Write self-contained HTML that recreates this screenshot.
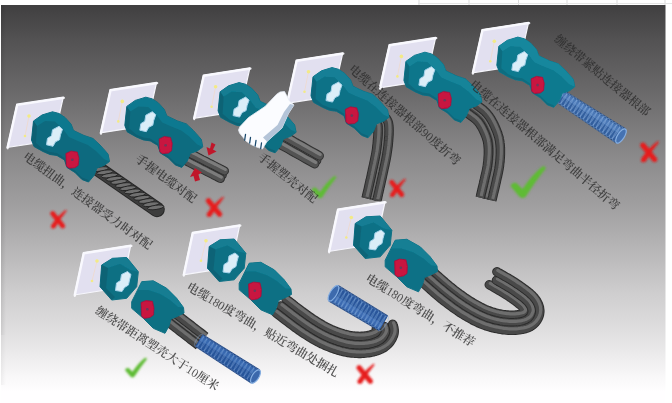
<!DOCTYPE html>
<html lang="zh-CN"><head><meta charset="utf-8"><title>连接器线缆对配示意</title>
<style>html,body{margin:0;padding:0;background:#fff;overflow:hidden}body{width:672px;height:403px;font-family:"Liberation Serif","Noto Serif CJK SC",serif}svg{display:block}text{font-family:"Liberation Serif","Noto Serif CJK SC",serif;font-weight:600}</style>
</head><body>
<svg width="672" height="403" viewBox="0 0 672 403">
<defs>
<linearGradient id="bgL" gradientUnits="userSpaceOnUse" x1="0" y1="5" x2="0" y2="403"><stop offset="0.000" stop-color="#403f40"/><stop offset="0.088" stop-color="#535253"/><stop offset="0.239" stop-color="#6e6d6e"/><stop offset="0.389" stop-color="#8c8b8c"/><stop offset="0.515" stop-color="#a2a1a2"/><stop offset="0.606" stop-color="#b5b4b5"/><stop offset="0.726" stop-color="#cfcecf"/><stop offset="0.822" stop-color="#e0dfe0"/><stop offset="0.892" stop-color="#efeeef"/><stop offset="0.932" stop-color="#f8f7f8"/><stop offset="0.972" stop-color="#fffeff"/><stop offset="1.000" stop-color="#fffeff"/></linearGradient>
<linearGradient id="edge" x1="0" y1="0" x2="1" y2="0"><stop offset="0" stop-color="#000" stop-opacity="0.09"/><stop offset="1" stop-color="#000" stop-opacity="0"/></linearGradient>
<filter id="soft" x="-5%" y="-5%" width="110%" height="110%"><feGaussianBlur stdDeviation="0.7"/></filter>
<filter id="soft2" x="-5%" y="-5%" width="110%" height="110%"><feGaussianBlur stdDeviation="0.6"/></filter>
<filter id="soft3" x="-10%" y="-10%" width="120%" height="120%"><feGaussianBlur stdDeviation="0.8"/></filter>
</defs>
<rect x="0" y="0" width="672" height="403" fill="#ffffff"/>
<rect x="1" y="5" width="665" height="398" fill="url(#bgL)"/>
<rect x="1" y="5" width="5" height="330" fill="url(#edge)"/>
<rect x="1" y="335" width="5" height="50" fill="url(#edge)" opacity="0.5"/>
<rect x="665" y="5" width="1" height="398" fill="#fff" opacity="0.5"/>
<rect x="418.5" y="0" width="1" height="5" fill="#dcdcdc"/>
<rect x="468.5" y="0" width="1" height="5" fill="#dcdcdc"/>
<rect x="518.0" y="0" width="1" height="5" fill="#dcdcdc"/>
<rect x="566.5" y="0" width="1" height="5" fill="#dcdcdc"/>
<rect x="616.5" y="0" width="1" height="5" fill="#dcdcdc"/>
<rect x="664.5" y="0" width="1" height="5" fill="#dcdcdc"/>
<rect x="418" y="3" width="254" height="1" fill="#e4e4e4"/>
<g filter="url(#soft)">
<path d="M97,168 L157,209.5" fill="none" stroke="#262626" stroke-width="15.5" stroke-linecap="round" stroke-linejoin="round" />
<path d="M97,168 L157,209.5" fill="none" stroke="#3e3e3e" stroke-width="13.5" stroke-linecap="round" stroke-linejoin="round" />
<ellipse cx="100.3" cy="169.1" rx="8.3" ry="2.1" transform="rotate(-8 100.3 169.1)" fill="#707070" stroke="#1e1e1e" stroke-width="0.8"/>
<ellipse cx="104.9" cy="172.3" rx="8.3" ry="2.1" transform="rotate(-8 104.9 172.3)" fill="#707070" stroke="#1e1e1e" stroke-width="0.8"/>
<ellipse cx="109.5" cy="175.5" rx="8.3" ry="2.1" transform="rotate(-8 109.5 175.5)" fill="#707070" stroke="#1e1e1e" stroke-width="0.8"/>
<ellipse cx="114.2" cy="178.7" rx="8.3" ry="2.1" transform="rotate(-8 114.2 178.7)" fill="#707070" stroke="#1e1e1e" stroke-width="0.8"/>
<ellipse cx="118.8" cy="181.9" rx="8.3" ry="2.1" transform="rotate(-8 118.8 181.9)" fill="#707070" stroke="#1e1e1e" stroke-width="0.8"/>
<ellipse cx="123.4" cy="185.1" rx="8.3" ry="2.1" transform="rotate(-8 123.4 185.1)" fill="#707070" stroke="#1e1e1e" stroke-width="0.8"/>
<ellipse cx="128.0" cy="188.2" rx="8.3" ry="2.1" transform="rotate(-8 128.0 188.2)" fill="#707070" stroke="#1e1e1e" stroke-width="0.8"/>
<ellipse cx="132.6" cy="191.4" rx="8.3" ry="2.1" transform="rotate(-8 132.6 191.4)" fill="#707070" stroke="#1e1e1e" stroke-width="0.8"/>
<ellipse cx="137.2" cy="194.6" rx="8.3" ry="2.1" transform="rotate(-8 137.2 194.6)" fill="#707070" stroke="#1e1e1e" stroke-width="0.8"/>
<ellipse cx="141.8" cy="197.8" rx="8.3" ry="2.1" transform="rotate(-8 141.8 197.8)" fill="#707070" stroke="#1e1e1e" stroke-width="0.8"/>
<ellipse cx="146.5" cy="201.0" rx="8.3" ry="2.1" transform="rotate(-8 146.5 201.0)" fill="#707070" stroke="#1e1e1e" stroke-width="0.8"/>
<ellipse cx="151.1" cy="204.2" rx="8.3" ry="2.1" transform="rotate(-8 151.1 204.2)" fill="#707070" stroke="#1e1e1e" stroke-width="0.8"/>
<ellipse cx="155.7" cy="207.4" rx="8.3" ry="2.1" transform="rotate(-8 155.7 207.4)" fill="#707070" stroke="#1e1e1e" stroke-width="0.8"/>
<path d="M183.8,155.4 L187.0,157.1 L190.2,158.7 L193.4,160.4 L196.6,162.0 L199.8,163.7 L203.0,165.3 L206.2,166.9 L209.4,168.6 L212.6,170.2 L215.9,171.9 L219.1,173.5 L222.3,175.1" fill="none" stroke="#2e2e2e" stroke-width="9.0" stroke-linecap="round" stroke-linejoin="round" />
<path d="M183.8,155.4 L187.0,157.1 L190.2,158.7 L193.4,160.4 L196.6,162.0 L199.8,163.7 L203.0,165.3 L206.2,166.9 L209.4,168.6 L212.6,170.2 L215.9,171.9 L219.1,173.5 L222.3,175.1" fill="none" stroke="#525252" stroke-width="7.2" stroke-linecap="round" stroke-linejoin="round" />
<path d="M183.8,155.4 L187.0,157.1 L190.2,158.7 L193.4,160.4 L196.6,162.0 L199.8,163.7 L203.0,165.3 L206.2,166.9 L209.4,168.6 L212.6,170.2 L215.9,171.9 L219.1,173.5 L222.3,175.1" fill="none" stroke="#7c7c7c" stroke-width="3.1" stroke-linecap="round" stroke-linejoin="round" transform="translate(0.9,-1.4)"/>
<path d="M186.0,151.2 L189.2,152.8 L192.4,154.5 L195.6,156.1 L198.8,157.7 L202.0,159.4 L205.2,161.0 L208.4,162.7 L211.6,164.3 L214.8,165.9 L218.0,167.6 L221.3,169.2 L224.5,170.9" fill="none" stroke="#2e2e2e" stroke-width="9.0" stroke-linecap="round" stroke-linejoin="round" />
<path d="M186.0,151.2 L189.2,152.8 L192.4,154.5 L195.6,156.1 L198.8,157.7 L202.0,159.4 L205.2,161.0 L208.4,162.7 L211.6,164.3 L214.8,165.9 L218.0,167.6 L221.3,169.2 L224.5,170.9" fill="none" stroke="#525252" stroke-width="7.2" stroke-linecap="round" stroke-linejoin="round" />
<path d="M186.0,151.2 L189.2,152.8 L192.4,154.5 L195.6,156.1 L198.8,157.7 L202.0,159.4 L205.2,161.0 L208.4,162.7 L211.6,164.3 L214.8,165.9 L218.0,167.6 L221.3,169.2 L224.5,170.9" fill="none" stroke="#7c7c7c" stroke-width="3.1" stroke-linecap="round" stroke-linejoin="round" transform="translate(0.9,-1.4)"/>
<path d="M182.0,158.8 L185.2,160.5 L188.5,162.1 L191.7,163.8 L194.9,165.4 L198.1,167.0 L201.3,168.7 L204.5,170.3 L207.7,172.0 L210.9,173.6 L214.1,175.2 L217.3,176.9 L220.5,178.5" fill="none" stroke="#2e2e2e" stroke-width="9.0" stroke-linecap="round" stroke-linejoin="round" />
<path d="M182.0,158.8 L185.2,160.5 L188.5,162.1 L191.7,163.8 L194.9,165.4 L198.1,167.0 L201.3,168.7 L204.5,170.3 L207.7,172.0 L210.9,173.6 L214.1,175.2 L217.3,176.9 L220.5,178.5" fill="none" stroke="#525252" stroke-width="7.2" stroke-linecap="round" stroke-linejoin="round" />
<path d="M182.0,158.8 L185.2,160.5 L188.5,162.1 L191.7,163.8 L194.9,165.4 L198.1,167.0 L201.3,168.7 L204.5,170.3 L207.7,172.0 L210.9,173.6 L214.1,175.2 L217.3,176.9 L220.5,178.5" fill="none" stroke="#7c7c7c" stroke-width="3.1" stroke-linecap="round" stroke-linejoin="round" transform="translate(0.9,-1.4)"/>
<path d="M276.8,137.7 L280.1,139.6 L283.4,141.5 L286.8,143.4 L290.1,145.2 L293.4,147.1 L296.8,149.0 L300.1,150.9 L303.4,152.7 L306.8,154.6 L310.1,156.5 L313.4,158.4 L316.8,160.2" fill="none" stroke="#2e2e2e" stroke-width="9.3" stroke-linecap="round" stroke-linejoin="round" />
<path d="M276.8,137.7 L280.1,139.6 L283.4,141.5 L286.8,143.4 L290.1,145.2 L293.4,147.1 L296.8,149.0 L300.1,150.9 L303.4,152.7 L306.8,154.6 L310.1,156.5 L313.4,158.4 L316.8,160.2" fill="none" stroke="#525252" stroke-width="7.5" stroke-linecap="round" stroke-linejoin="round" />
<path d="M276.8,137.7 L280.1,139.6 L283.4,141.5 L286.8,143.4 L290.1,145.2 L293.4,147.1 L296.8,149.0 L300.1,150.9 L303.4,152.7 L306.8,154.6 L310.1,156.5 L313.4,158.4 L316.8,160.2" fill="none" stroke="#7c7c7c" stroke-width="3.2" stroke-linecap="round" stroke-linejoin="round" transform="translate(0.9,-1.4)"/>
<path d="M279.3,133.3 L282.6,135.2 L285.9,137.0 L289.3,138.9 L292.6,140.8 L295.9,142.7 L299.3,144.5 L302.6,146.4 L305.9,148.3 L309.3,150.2 L312.6,152.0 L315.9,153.9 L319.3,155.8" fill="none" stroke="#2e2e2e" stroke-width="9.3" stroke-linecap="round" stroke-linejoin="round" />
<path d="M279.3,133.3 L282.6,135.2 L285.9,137.0 L289.3,138.9 L292.6,140.8 L295.9,142.7 L299.3,144.5 L302.6,146.4 L305.9,148.3 L309.3,150.2 L312.6,152.0 L315.9,153.9 L319.3,155.8" fill="none" stroke="#525252" stroke-width="7.5" stroke-linecap="round" stroke-linejoin="round" />
<path d="M279.3,133.3 L282.6,135.2 L285.9,137.0 L289.3,138.9 L292.6,140.8 L295.9,142.7 L299.3,144.5 L302.6,146.4 L305.9,148.3 L309.3,150.2 L312.6,152.0 L315.9,153.9 L319.3,155.8" fill="none" stroke="#7c7c7c" stroke-width="3.2" stroke-linecap="round" stroke-linejoin="round" transform="translate(0.9,-1.4)"/>
<path d="M274.7,141.3 L278.1,143.2 L281.4,145.1 L284.7,146.9 L288.1,148.8 L291.4,150.7 L294.7,152.6 L298.1,154.4 L301.4,156.3 L304.7,158.2 L308.1,160.1 L311.4,161.9 L314.7,163.8" fill="none" stroke="#2e2e2e" stroke-width="9.3" stroke-linecap="round" stroke-linejoin="round" />
<path d="M274.7,141.3 L278.1,143.2 L281.4,145.1 L284.7,146.9 L288.1,148.8 L291.4,150.7 L294.7,152.6 L298.1,154.4 L301.4,156.3 L304.7,158.2 L308.1,160.1 L311.4,161.9 L314.7,163.8" fill="none" stroke="#525252" stroke-width="7.5" stroke-linecap="round" stroke-linejoin="round" />
<path d="M274.7,141.3 L278.1,143.2 L281.4,145.1 L284.7,146.9 L288.1,148.8 L291.4,150.7 L294.7,152.6 L298.1,154.4 L301.4,156.3 L304.7,158.2 L308.1,160.1 L311.4,161.9 L314.7,163.8" fill="none" stroke="#7c7c7c" stroke-width="3.2" stroke-linecap="round" stroke-linejoin="round" transform="translate(0.9,-1.4)"/>
<path d="M372.0,117.0 L372.4,117.2 L373.0,117.3 L373.7,117.5 L374.4,117.8 L375.2,118.0 L376.1,118.3 L376.9,118.6 L377.8,118.9 L378.6,119.3 L379.3,119.6 L380.0,120.1 L380.5,120.5 L381.0,120.9 L381.4,121.4 L381.7,121.8 L382.1,122.2 L382.4,122.6 L382.6,123.1 L382.8,123.6 L383.0,124.3 L383.2,125.0 L383.3,125.9 L383.4,126.9 L383.5,128.0 L383.5,129.3 L383.6,130.8 L383.5,132.4 L383.5,134.1 L383.4,136.0 L383.2,137.9 L383.1,139.9 L382.9,141.9 L382.7,143.9 L382.5,146.0 L382.3,148.0 L382.0,150.0 L381.7,152.0 L381.4,154.0 L381.0,156.1 L380.6,158.1 L380.2,160.2 L379.8,162.3 L379.3,164.5 L378.8,166.6 L378.4,168.7 L377.9,170.8 L377.4,172.9 L377.0,175.0 L376.5,177.1 L376.0,179.4 L375.5,181.7 L375.0,184.1 L374.5,186.5 L373.9,188.8 L373.4,191.1 L372.9,193.2 L372.5,195.1 L372.1,196.8 L371.8,198.3 L371.5,199.5" fill="none" stroke="#2a2a2a" stroke-width="9.5" stroke-linecap="butt" stroke-linejoin="round" />
<path d="M372.0,117.0 L372.4,117.2 L373.0,117.3 L373.7,117.5 L374.4,117.8 L375.2,118.0 L376.1,118.3 L376.9,118.6 L377.8,118.9 L378.6,119.3 L379.3,119.6 L380.0,120.1 L380.5,120.5 L381.0,120.9 L381.4,121.4 L381.7,121.8 L382.1,122.2 L382.4,122.6 L382.6,123.1 L382.8,123.6 L383.0,124.3 L383.2,125.0 L383.3,125.9 L383.4,126.9 L383.5,128.0 L383.5,129.3 L383.6,130.8 L383.5,132.4 L383.5,134.1 L383.4,136.0 L383.2,137.9 L383.1,139.9 L382.9,141.9 L382.7,143.9 L382.5,146.0 L382.3,148.0 L382.0,150.0 L381.7,152.0 L381.4,154.0 L381.0,156.1 L380.6,158.1 L380.2,160.2 L379.8,162.3 L379.3,164.5 L378.8,166.6 L378.4,168.7 L377.9,170.8 L377.4,172.9 L377.0,175.0 L376.5,177.1 L376.0,179.4 L375.5,181.7 L375.0,184.1 L374.5,186.5 L373.9,188.8 L373.4,191.1 L372.9,193.2 L372.5,195.1 L372.1,196.8 L371.8,198.3 L371.5,199.5" fill="none" stroke="#484848" stroke-width="7.7" stroke-linecap="butt" stroke-linejoin="round" />
<path d="M372.0,117.0 L372.4,117.2 L373.0,117.3 L373.7,117.5 L374.4,117.8 L375.2,118.0 L376.1,118.3 L376.9,118.6 L377.8,118.9 L378.6,119.3 L379.3,119.6 L380.0,120.1 L380.5,120.5 L381.0,120.9 L381.4,121.4 L381.7,121.8 L382.1,122.2 L382.4,122.6 L382.6,123.1 L382.8,123.6 L383.0,124.3 L383.2,125.0 L383.3,125.9 L383.4,126.9 L383.5,128.0 L383.5,129.3 L383.6,130.8 L383.5,132.4 L383.5,134.1 L383.4,136.0 L383.2,137.9 L383.1,139.9 L382.9,141.9 L382.7,143.9 L382.5,146.0 L382.3,148.0 L382.0,150.0 L381.7,152.0 L381.4,154.0 L381.0,156.1 L380.6,158.1 L380.2,160.2 L379.8,162.3 L379.3,164.5 L378.8,166.6 L378.4,168.7 L377.9,170.8 L377.4,172.9 L377.0,175.0 L376.5,177.1 L376.0,179.4 L375.5,181.7 L375.0,184.1 L374.5,186.5 L373.9,188.8 L373.4,191.1 L372.9,193.2 L372.5,195.1 L372.1,196.8 L371.8,198.3 L371.5,199.5" fill="none" stroke="#6e6e6e" stroke-width="3.2" stroke-linecap="butt" stroke-linejoin="round" transform="translate(0.9,-1.4)"/>
<path d="M370.1,122.2 L370.7,122.4 L371.4,122.6 L372.1,122.8 L372.8,123.0 L373.6,123.3 L374.3,123.5 L375.0,123.7 L375.7,124.0 L376.2,124.2 L376.6,124.4 L376.8,124.5 L376.9,124.6 L377.1,124.9 L377.4,125.2 L377.6,125.3 L377.6,125.4 L377.6,125.4 L377.6,125.4 L377.7,125.5 L377.7,125.6 L377.8,126.0 L377.9,126.5 L377.9,127.3 L378.0,128.3 L378.0,129.4 L378.1,130.8 L378.0,132.3 L378.0,133.9 L377.9,135.7 L377.8,137.5 L377.6,139.4 L377.4,141.4 L377.3,143.4 L377.0,145.4 L376.8,147.3 L376.6,149.2 L376.3,151.1 L376.0,153.1 L375.6,155.1 L375.2,157.1 L374.8,159.1 L374.4,161.2 L373.9,163.3 L373.5,165.4 L373.0,167.5 L372.5,169.7 L372.1,171.8 L371.6,173.8 L371.2,176.0 L370.7,178.2 L370.2,180.5 L369.6,182.9 L369.1,185.3 L368.6,187.6 L368.1,189.8 L367.6,191.9 L367.1,193.9 L366.7,195.6 L366.4,197.1 L366.1,198.3" fill="none" stroke="#2a2a2a" stroke-width="9.5" stroke-linecap="butt" stroke-linejoin="round" />
<path d="M370.1,122.2 L370.7,122.4 L371.4,122.6 L372.1,122.8 L372.8,123.0 L373.6,123.3 L374.3,123.5 L375.0,123.7 L375.7,124.0 L376.2,124.2 L376.6,124.4 L376.8,124.5 L376.9,124.6 L377.1,124.9 L377.4,125.2 L377.6,125.3 L377.6,125.4 L377.6,125.4 L377.6,125.4 L377.7,125.5 L377.7,125.6 L377.8,126.0 L377.9,126.5 L377.9,127.3 L378.0,128.3 L378.0,129.4 L378.1,130.8 L378.0,132.3 L378.0,133.9 L377.9,135.7 L377.8,137.5 L377.6,139.4 L377.4,141.4 L377.3,143.4 L377.0,145.4 L376.8,147.3 L376.6,149.2 L376.3,151.1 L376.0,153.1 L375.6,155.1 L375.2,157.1 L374.8,159.1 L374.4,161.2 L373.9,163.3 L373.5,165.4 L373.0,167.5 L372.5,169.7 L372.1,171.8 L371.6,173.8 L371.2,176.0 L370.7,178.2 L370.2,180.5 L369.6,182.9 L369.1,185.3 L368.6,187.6 L368.1,189.8 L367.6,191.9 L367.1,193.9 L366.7,195.6 L366.4,197.1 L366.1,198.3" fill="none" stroke="#484848" stroke-width="7.7" stroke-linecap="butt" stroke-linejoin="round" />
<path d="M370.1,122.2 L370.7,122.4 L371.4,122.6 L372.1,122.8 L372.8,123.0 L373.6,123.3 L374.3,123.5 L375.0,123.7 L375.7,124.0 L376.2,124.2 L376.6,124.4 L376.8,124.5 L376.9,124.6 L377.1,124.9 L377.4,125.2 L377.6,125.3 L377.6,125.4 L377.6,125.4 L377.6,125.4 L377.7,125.5 L377.7,125.6 L377.8,126.0 L377.9,126.5 L377.9,127.3 L378.0,128.3 L378.0,129.4 L378.1,130.8 L378.0,132.3 L378.0,133.9 L377.9,135.7 L377.8,137.5 L377.6,139.4 L377.4,141.4 L377.3,143.4 L377.0,145.4 L376.8,147.3 L376.6,149.2 L376.3,151.1 L376.0,153.1 L375.6,155.1 L375.2,157.1 L374.8,159.1 L374.4,161.2 L373.9,163.3 L373.5,165.4 L373.0,167.5 L372.5,169.7 L372.1,171.8 L371.6,173.8 L371.2,176.0 L370.7,178.2 L370.2,180.5 L369.6,182.9 L369.1,185.3 L368.6,187.6 L368.1,189.8 L367.6,191.9 L367.1,193.9 L366.7,195.6 L366.4,197.1 L366.1,198.3" fill="none" stroke="#6e6e6e" stroke-width="3.2" stroke-linecap="butt" stroke-linejoin="round" transform="translate(0.9,-1.4)"/>
<path d="M373.9,111.8 L374.2,111.9 L374.6,112.1 L375.2,112.3 L376.0,112.5 L376.9,112.8 L377.8,113.1 L378.8,113.4 L379.9,113.8 L380.9,114.3 L382.0,114.9 L383.2,115.6 L384.1,116.4 L384.8,117.0 L385.3,117.5 L385.9,118.2 L386.5,118.9 L387.1,119.8 L387.6,120.8 L388.0,121.8 L388.4,122.9 L388.6,124.0 L388.8,125.2 L388.9,126.4 L389.0,127.7 L389.0,129.2 L389.1,130.8 L389.0,132.6 L389.0,134.4 L388.9,136.3 L388.7,138.3 L388.6,140.3 L388.4,142.4 L388.2,144.5 L388.0,146.6 L387.7,148.7 L387.4,150.8 L387.1,152.8 L386.8,154.9 L386.4,157.1 L386.0,159.2 L385.6,161.3 L385.1,163.5 L384.7,165.6 L384.2,167.8 L383.7,169.9 L383.3,172.0 L382.8,174.1 L382.4,176.2 L381.9,178.3 L381.4,180.6 L380.9,182.9 L380.4,185.3 L379.8,187.7 L379.3,190.0 L378.8,192.3 L378.3,194.4 L377.9,196.3 L377.5,198.1 L377.1,199.5 L376.9,200.7" fill="none" stroke="#2a2a2a" stroke-width="9.5" stroke-linecap="butt" stroke-linejoin="round" />
<path d="M373.9,111.8 L374.2,111.9 L374.6,112.1 L375.2,112.3 L376.0,112.5 L376.9,112.8 L377.8,113.1 L378.8,113.4 L379.9,113.8 L380.9,114.3 L382.0,114.9 L383.2,115.6 L384.1,116.4 L384.8,117.0 L385.3,117.5 L385.9,118.2 L386.5,118.9 L387.1,119.8 L387.6,120.8 L388.0,121.8 L388.4,122.9 L388.6,124.0 L388.8,125.2 L388.9,126.4 L389.0,127.7 L389.0,129.2 L389.1,130.8 L389.0,132.6 L389.0,134.4 L388.9,136.3 L388.7,138.3 L388.6,140.3 L388.4,142.4 L388.2,144.5 L388.0,146.6 L387.7,148.7 L387.4,150.8 L387.1,152.8 L386.8,154.9 L386.4,157.1 L386.0,159.2 L385.6,161.3 L385.1,163.5 L384.7,165.6 L384.2,167.8 L383.7,169.9 L383.3,172.0 L382.8,174.1 L382.4,176.2 L381.9,178.3 L381.4,180.6 L380.9,182.9 L380.4,185.3 L379.8,187.7 L379.3,190.0 L378.8,192.3 L378.3,194.4 L377.9,196.3 L377.5,198.1 L377.1,199.5 L376.9,200.7" fill="none" stroke="#484848" stroke-width="7.7" stroke-linecap="butt" stroke-linejoin="round" />
<path d="M373.9,111.8 L374.2,111.9 L374.6,112.1 L375.2,112.3 L376.0,112.5 L376.9,112.8 L377.8,113.1 L378.8,113.4 L379.9,113.8 L380.9,114.3 L382.0,114.9 L383.2,115.6 L384.1,116.4 L384.8,117.0 L385.3,117.5 L385.9,118.2 L386.5,118.9 L387.1,119.8 L387.6,120.8 L388.0,121.8 L388.4,122.9 L388.6,124.0 L388.8,125.2 L388.9,126.4 L389.0,127.7 L389.0,129.2 L389.1,130.8 L389.0,132.6 L389.0,134.4 L388.9,136.3 L388.7,138.3 L388.6,140.3 L388.4,142.4 L388.2,144.5 L388.0,146.6 L387.7,148.7 L387.4,150.8 L387.1,152.8 L386.8,154.9 L386.4,157.1 L386.0,159.2 L385.6,161.3 L385.1,163.5 L384.7,165.6 L384.2,167.8 L383.7,169.9 L383.3,172.0 L382.8,174.1 L382.4,176.2 L381.9,178.3 L381.4,180.6 L380.9,182.9 L380.4,185.3 L379.8,187.7 L379.3,190.0 L378.8,192.3 L378.3,194.4 L377.9,196.3 L377.5,198.1 L377.1,199.5 L376.9,200.7" fill="none" stroke="#6e6e6e" stroke-width="3.2" stroke-linecap="butt" stroke-linejoin="round" transform="translate(0.9,-1.4)"/>
<path d="M462.0,103.0 L462.5,103.3 L463.1,103.6 L463.8,104.0 L464.5,104.4 L465.4,104.9 L466.3,105.4 L467.2,105.9 L468.2,106.5 L469.2,107.1 L470.1,107.7 L471.1,108.3 L472.0,109.0 L472.9,109.7 L473.9,110.4 L474.9,111.1 L475.9,111.8 L476.9,112.5 L477.9,113.3 L478.9,114.1 L479.9,115.0 L480.8,115.9 L481.8,116.8 L482.7,117.8 L483.5,118.8 L484.3,119.9 L485.1,121.0 L485.9,122.3 L486.6,123.5 L487.3,124.8 L488.0,126.2 L488.7,127.5 L489.3,128.9 L489.9,130.2 L490.5,131.5 L491.0,132.8 L491.5,134.0 L491.9,135.2 L492.3,136.3 L492.7,137.4 L493.0,138.5 L493.2,139.5 L493.5,140.6 L493.7,141.7 L493.8,142.8 L494.0,143.9 L494.1,145.0 L494.2,146.2 L494.3,147.5 L494.4,148.8 L494.4,150.2 L494.4,151.6 L494.4,153.1 L494.4,154.5 L494.3,156.0 L494.2,157.5 L494.1,159.1 L494.0,160.6 L493.8,162.1 L493.7,163.5 L493.5,165.0 L493.3,166.4 L493.1,167.9 L492.8,169.3 L492.6,170.7 L492.3,172.1 L491.9,173.5 L491.6,174.9 L491.3,176.4 L491.0,177.8 L490.6,179.2 L490.3,180.6 L490.0,182.0 L489.7,183.5 L489.3,185.0 L488.9,186.6 L488.6,188.3 L488.2,189.9 L487.8,191.6 L487.4,193.1 L487.1,194.6 L486.7,195.9 L486.4,197.2 L486.2,198.2 L486.0,199.0" fill="none" stroke="#2a2a2a" stroke-width="9.5" stroke-linecap="butt" stroke-linejoin="round" />
<path d="M462.0,103.0 L462.5,103.3 L463.1,103.6 L463.8,104.0 L464.5,104.4 L465.4,104.9 L466.3,105.4 L467.2,105.9 L468.2,106.5 L469.2,107.1 L470.1,107.7 L471.1,108.3 L472.0,109.0 L472.9,109.7 L473.9,110.4 L474.9,111.1 L475.9,111.8 L476.9,112.5 L477.9,113.3 L478.9,114.1 L479.9,115.0 L480.8,115.9 L481.8,116.8 L482.7,117.8 L483.5,118.8 L484.3,119.9 L485.1,121.0 L485.9,122.3 L486.6,123.5 L487.3,124.8 L488.0,126.2 L488.7,127.5 L489.3,128.9 L489.9,130.2 L490.5,131.5 L491.0,132.8 L491.5,134.0 L491.9,135.2 L492.3,136.3 L492.7,137.4 L493.0,138.5 L493.2,139.5 L493.5,140.6 L493.7,141.7 L493.8,142.8 L494.0,143.9 L494.1,145.0 L494.2,146.2 L494.3,147.5 L494.4,148.8 L494.4,150.2 L494.4,151.6 L494.4,153.1 L494.4,154.5 L494.3,156.0 L494.2,157.5 L494.1,159.1 L494.0,160.6 L493.8,162.1 L493.7,163.5 L493.5,165.0 L493.3,166.4 L493.1,167.9 L492.8,169.3 L492.6,170.7 L492.3,172.1 L491.9,173.5 L491.6,174.9 L491.3,176.4 L491.0,177.8 L490.6,179.2 L490.3,180.6 L490.0,182.0 L489.7,183.5 L489.3,185.0 L488.9,186.6 L488.6,188.3 L488.2,189.9 L487.8,191.6 L487.4,193.1 L487.1,194.6 L486.7,195.9 L486.4,197.2 L486.2,198.2 L486.0,199.0" fill="none" stroke="#484848" stroke-width="7.7" stroke-linecap="butt" stroke-linejoin="round" />
<path d="M462.0,103.0 L462.5,103.3 L463.1,103.6 L463.8,104.0 L464.5,104.4 L465.4,104.9 L466.3,105.4 L467.2,105.9 L468.2,106.5 L469.2,107.1 L470.1,107.7 L471.1,108.3 L472.0,109.0 L472.9,109.7 L473.9,110.4 L474.9,111.1 L475.9,111.8 L476.9,112.5 L477.9,113.3 L478.9,114.1 L479.9,115.0 L480.8,115.9 L481.8,116.8 L482.7,117.8 L483.5,118.8 L484.3,119.9 L485.1,121.0 L485.9,122.3 L486.6,123.5 L487.3,124.8 L488.0,126.2 L488.7,127.5 L489.3,128.9 L489.9,130.2 L490.5,131.5 L491.0,132.8 L491.5,134.0 L491.9,135.2 L492.3,136.3 L492.7,137.4 L493.0,138.5 L493.2,139.5 L493.5,140.6 L493.7,141.7 L493.8,142.8 L494.0,143.9 L494.1,145.0 L494.2,146.2 L494.3,147.5 L494.4,148.8 L494.4,150.2 L494.4,151.6 L494.4,153.1 L494.4,154.5 L494.3,156.0 L494.2,157.5 L494.1,159.1 L494.0,160.6 L493.8,162.1 L493.7,163.5 L493.5,165.0 L493.3,166.4 L493.1,167.9 L492.8,169.3 L492.6,170.7 L492.3,172.1 L491.9,173.5 L491.6,174.9 L491.3,176.4 L491.0,177.8 L490.6,179.2 L490.3,180.6 L490.0,182.0 L489.7,183.5 L489.3,185.0 L488.9,186.6 L488.6,188.3 L488.2,189.9 L487.8,191.6 L487.4,193.1 L487.1,194.6 L486.7,195.9 L486.4,197.2 L486.2,198.2 L486.0,199.0" fill="none" stroke="#6e6e6e" stroke-width="3.2" stroke-linecap="butt" stroke-linejoin="round" transform="translate(0.9,-1.4)"/>
<path d="M459.0,108.2 L459.5,108.5 L460.2,108.9 L460.9,109.2 L461.6,109.7 L462.5,110.1 L463.3,110.6 L464.2,111.1 L465.1,111.6 L466.0,112.2 L466.8,112.7 L467.7,113.3 L468.5,113.9 L469.4,114.5 L470.4,115.2 L471.3,115.9 L472.3,116.6 L473.2,117.3 L474.1,118.0 L475.0,118.7 L475.9,119.5 L476.7,120.2 L477.4,121.0 L478.1,121.7 L478.8,122.5 L479.4,123.4 L480.1,124.3 L480.7,125.4 L481.4,126.5 L482.1,127.7 L482.7,128.9 L483.3,130.1 L483.9,131.4 L484.5,132.6 L485.0,133.8 L485.5,135.0 L485.9,136.1 L486.3,137.2 L486.6,138.2 L486.9,139.1 L487.2,140.0 L487.4,140.9 L487.6,141.8 L487.7,142.7 L487.9,143.6 L488.0,144.6 L488.1,145.6 L488.2,146.7 L488.3,147.9 L488.4,149.1 L488.4,150.3 L488.4,151.6 L488.4,152.9 L488.4,154.3 L488.3,155.7 L488.2,157.2 L488.1,158.6 L488.0,160.0 L487.9,161.5 L487.7,162.9 L487.5,164.2 L487.4,165.6 L487.2,166.9 L486.9,168.2 L486.7,169.5 L486.4,170.9 L486.1,172.2 L485.8,173.6 L485.5,175.0 L485.1,176.4 L484.8,177.8 L484.5,179.3 L484.1,180.7 L483.8,182.1 L483.5,183.7 L483.1,185.3 L482.7,186.9 L482.3,188.6 L481.9,190.2 L481.6,191.7 L481.2,193.2 L480.9,194.5 L480.6,195.8 L480.4,196.8 L480.2,197.6" fill="none" stroke="#2a2a2a" stroke-width="9.5" stroke-linecap="butt" stroke-linejoin="round" />
<path d="M459.0,108.2 L459.5,108.5 L460.2,108.9 L460.9,109.2 L461.6,109.7 L462.5,110.1 L463.3,110.6 L464.2,111.1 L465.1,111.6 L466.0,112.2 L466.8,112.7 L467.7,113.3 L468.5,113.9 L469.4,114.5 L470.4,115.2 L471.3,115.9 L472.3,116.6 L473.2,117.3 L474.1,118.0 L475.0,118.7 L475.9,119.5 L476.7,120.2 L477.4,121.0 L478.1,121.7 L478.8,122.5 L479.4,123.4 L480.1,124.3 L480.7,125.4 L481.4,126.5 L482.1,127.7 L482.7,128.9 L483.3,130.1 L483.9,131.4 L484.5,132.6 L485.0,133.8 L485.5,135.0 L485.9,136.1 L486.3,137.2 L486.6,138.2 L486.9,139.1 L487.2,140.0 L487.4,140.9 L487.6,141.8 L487.7,142.7 L487.9,143.6 L488.0,144.6 L488.1,145.6 L488.2,146.7 L488.3,147.9 L488.4,149.1 L488.4,150.3 L488.4,151.6 L488.4,152.9 L488.4,154.3 L488.3,155.7 L488.2,157.2 L488.1,158.6 L488.0,160.0 L487.9,161.5 L487.7,162.9 L487.5,164.2 L487.4,165.6 L487.2,166.9 L486.9,168.2 L486.7,169.5 L486.4,170.9 L486.1,172.2 L485.8,173.6 L485.5,175.0 L485.1,176.4 L484.8,177.8 L484.5,179.3 L484.1,180.7 L483.8,182.1 L483.5,183.7 L483.1,185.3 L482.7,186.9 L482.3,188.6 L481.9,190.2 L481.6,191.7 L481.2,193.2 L480.9,194.5 L480.6,195.8 L480.4,196.8 L480.2,197.6" fill="none" stroke="#484848" stroke-width="7.7" stroke-linecap="butt" stroke-linejoin="round" />
<path d="M459.0,108.2 L459.5,108.5 L460.2,108.9 L460.9,109.2 L461.6,109.7 L462.5,110.1 L463.3,110.6 L464.2,111.1 L465.1,111.6 L466.0,112.2 L466.8,112.7 L467.7,113.3 L468.5,113.9 L469.4,114.5 L470.4,115.2 L471.3,115.9 L472.3,116.6 L473.2,117.3 L474.1,118.0 L475.0,118.7 L475.9,119.5 L476.7,120.2 L477.4,121.0 L478.1,121.7 L478.8,122.5 L479.4,123.4 L480.1,124.3 L480.7,125.4 L481.4,126.5 L482.1,127.7 L482.7,128.9 L483.3,130.1 L483.9,131.4 L484.5,132.6 L485.0,133.8 L485.5,135.0 L485.9,136.1 L486.3,137.2 L486.6,138.2 L486.9,139.1 L487.2,140.0 L487.4,140.9 L487.6,141.8 L487.7,142.7 L487.9,143.6 L488.0,144.6 L488.1,145.6 L488.2,146.7 L488.3,147.9 L488.4,149.1 L488.4,150.3 L488.4,151.6 L488.4,152.9 L488.4,154.3 L488.3,155.7 L488.2,157.2 L488.1,158.6 L488.0,160.0 L487.9,161.5 L487.7,162.9 L487.5,164.2 L487.4,165.6 L487.2,166.9 L486.9,168.2 L486.7,169.5 L486.4,170.9 L486.1,172.2 L485.8,173.6 L485.5,175.0 L485.1,176.4 L484.8,177.8 L484.5,179.3 L484.1,180.7 L483.8,182.1 L483.5,183.7 L483.1,185.3 L482.7,186.9 L482.3,188.6 L481.9,190.2 L481.6,191.7 L481.2,193.2 L480.9,194.5 L480.6,195.8 L480.4,196.8 L480.2,197.6" fill="none" stroke="#6e6e6e" stroke-width="3.2" stroke-linecap="butt" stroke-linejoin="round" transform="translate(0.9,-1.4)"/>
<path d="M465.0,97.8 L465.4,98.1 L466.0,98.4 L466.7,98.7 L467.4,99.2 L468.3,99.6 L469.2,100.2 L470.2,100.7 L471.3,101.4 L472.3,102.0 L473.4,102.7 L474.5,103.4 L475.5,104.1 L476.4,104.8 L477.4,105.5 L478.4,106.2 L479.4,107.0 L480.5,107.8 L481.6,108.6 L482.7,109.5 L483.9,110.5 L485.0,111.5 L486.1,112.7 L487.2,113.8 L488.2,115.1 L489.2,116.4 L490.1,117.7 L491.0,119.1 L491.8,120.5 L492.6,122.0 L493.4,123.4 L494.1,124.9 L494.8,126.3 L495.4,127.8 L496.0,129.2 L496.6,130.6 L497.1,131.9 L497.6,133.2 L498.0,134.5 L498.4,135.7 L498.8,136.9 L499.1,138.2 L499.3,139.4 L499.6,140.6 L499.8,141.9 L499.9,143.2 L500.1,144.4 L500.2,145.8 L500.3,147.1 L500.4,148.6 L500.4,150.1 L500.4,151.6 L500.4,153.2 L500.4,154.7 L500.3,156.3 L500.2,157.9 L500.1,159.5 L500.0,161.1 L499.8,162.7 L499.6,164.2 L499.5,165.8 L499.2,167.3 L499.0,168.9 L498.7,170.4 L498.4,171.9 L498.1,173.4 L497.8,174.8 L497.5,176.3 L497.1,177.7 L496.8,179.1 L496.5,180.5 L496.2,181.9 L495.9,183.3 L495.5,184.8 L495.2,186.4 L494.8,188.0 L494.4,189.7 L494.0,191.3 L493.6,193.0 L493.2,194.5 L492.9,196.0 L492.6,197.3 L492.3,198.5 L492.0,199.6 L491.8,200.4" fill="none" stroke="#2a2a2a" stroke-width="9.5" stroke-linecap="butt" stroke-linejoin="round" />
<path d="M465.0,97.8 L465.4,98.1 L466.0,98.4 L466.7,98.7 L467.4,99.2 L468.3,99.6 L469.2,100.2 L470.2,100.7 L471.3,101.4 L472.3,102.0 L473.4,102.7 L474.5,103.4 L475.5,104.1 L476.4,104.8 L477.4,105.5 L478.4,106.2 L479.4,107.0 L480.5,107.8 L481.6,108.6 L482.7,109.5 L483.9,110.5 L485.0,111.5 L486.1,112.7 L487.2,113.8 L488.2,115.1 L489.2,116.4 L490.1,117.7 L491.0,119.1 L491.8,120.5 L492.6,122.0 L493.4,123.4 L494.1,124.9 L494.8,126.3 L495.4,127.8 L496.0,129.2 L496.6,130.6 L497.1,131.9 L497.6,133.2 L498.0,134.5 L498.4,135.7 L498.8,136.9 L499.1,138.2 L499.3,139.4 L499.6,140.6 L499.8,141.9 L499.9,143.2 L500.1,144.4 L500.2,145.8 L500.3,147.1 L500.4,148.6 L500.4,150.1 L500.4,151.6 L500.4,153.2 L500.4,154.7 L500.3,156.3 L500.2,157.9 L500.1,159.5 L500.0,161.1 L499.8,162.7 L499.6,164.2 L499.5,165.8 L499.2,167.3 L499.0,168.9 L498.7,170.4 L498.4,171.9 L498.1,173.4 L497.8,174.8 L497.5,176.3 L497.1,177.7 L496.8,179.1 L496.5,180.5 L496.2,181.9 L495.9,183.3 L495.5,184.8 L495.2,186.4 L494.8,188.0 L494.4,189.7 L494.0,191.3 L493.6,193.0 L493.2,194.5 L492.9,196.0 L492.6,197.3 L492.3,198.5 L492.0,199.6 L491.8,200.4" fill="none" stroke="#484848" stroke-width="7.7" stroke-linecap="butt" stroke-linejoin="round" />
<path d="M465.0,97.8 L465.4,98.1 L466.0,98.4 L466.7,98.7 L467.4,99.2 L468.3,99.6 L469.2,100.2 L470.2,100.7 L471.3,101.4 L472.3,102.0 L473.4,102.7 L474.5,103.4 L475.5,104.1 L476.4,104.8 L477.4,105.5 L478.4,106.2 L479.4,107.0 L480.5,107.8 L481.6,108.6 L482.7,109.5 L483.9,110.5 L485.0,111.5 L486.1,112.7 L487.2,113.8 L488.2,115.1 L489.2,116.4 L490.1,117.7 L491.0,119.1 L491.8,120.5 L492.6,122.0 L493.4,123.4 L494.1,124.9 L494.8,126.3 L495.4,127.8 L496.0,129.2 L496.6,130.6 L497.1,131.9 L497.6,133.2 L498.0,134.5 L498.4,135.7 L498.8,136.9 L499.1,138.2 L499.3,139.4 L499.6,140.6 L499.8,141.9 L499.9,143.2 L500.1,144.4 L500.2,145.8 L500.3,147.1 L500.4,148.6 L500.4,150.1 L500.4,151.6 L500.4,153.2 L500.4,154.7 L500.3,156.3 L500.2,157.9 L500.1,159.5 L500.0,161.1 L499.8,162.7 L499.6,164.2 L499.5,165.8 L499.2,167.3 L499.0,168.9 L498.7,170.4 L498.4,171.9 L498.1,173.4 L497.8,174.8 L497.5,176.3 L497.1,177.7 L496.8,179.1 L496.5,180.5 L496.2,181.9 L495.9,183.3 L495.5,184.8 L495.2,186.4 L494.8,188.0 L494.4,189.7 L494.0,191.3 L493.6,193.0 L493.2,194.5 L492.9,196.0 L492.6,197.3 L492.3,198.5 L492.0,199.6 L491.8,200.4" fill="none" stroke="#6e6e6e" stroke-width="3.2" stroke-linecap="butt" stroke-linejoin="round" transform="translate(0.9,-1.4)"/>
<polygon points="563.0,89.4 625.9,128.5 616.1,143.5 555.0,101.6" fill="#254a80"/>
<polygon points="562.3,90.4 625.1,129.7 616.9,142.3 555.7,100.6" fill="#335f9e"/>
<polygon points="562.0,90.9 624.7,130.3 621.5,135.2 559.4,94.9" fill="#5583c0" opacity="0.7"/>
<ellipse cx="559.0" cy="95.5" rx="2.6" ry="6.7" transform="rotate(33.2 559.0 95.5)" fill="none" stroke="#8ab0e0" stroke-opacity="0.50" stroke-width="1.1"/>
<ellipse cx="562.3" cy="97.6" rx="2.6" ry="6.8" transform="rotate(33.2 562.3 97.6)" fill="none" stroke="#8ab0e0" stroke-opacity="0.50" stroke-width="1.1"/>
<ellipse cx="565.5" cy="99.8" rx="2.6" ry="6.9" transform="rotate(33.2 565.5 99.8)" fill="none" stroke="#8ab0e0" stroke-opacity="0.50" stroke-width="1.1"/>
<ellipse cx="568.8" cy="101.9" rx="2.6" ry="7.0" transform="rotate(33.2 568.8 101.9)" fill="none" stroke="#8ab0e0" stroke-opacity="0.50" stroke-width="1.1"/>
<ellipse cx="572.1" cy="104.0" rx="2.6" ry="7.1" transform="rotate(33.2 572.1 104.0)" fill="none" stroke="#8ab0e0" stroke-opacity="0.50" stroke-width="1.1"/>
<ellipse cx="575.3" cy="106.2" rx="2.6" ry="7.1" transform="rotate(33.2 575.3 106.2)" fill="none" stroke="#8ab0e0" stroke-opacity="0.50" stroke-width="1.1"/>
<ellipse cx="578.6" cy="108.3" rx="2.6" ry="7.2" transform="rotate(33.2 578.6 108.3)" fill="none" stroke="#8ab0e0" stroke-opacity="0.50" stroke-width="1.1"/>
<ellipse cx="581.8" cy="110.4" rx="2.6" ry="7.3" transform="rotate(33.2 581.8 110.4)" fill="none" stroke="#8ab0e0" stroke-opacity="0.50" stroke-width="1.1"/>
<ellipse cx="585.1" cy="112.6" rx="2.6" ry="7.4" transform="rotate(33.2 585.1 112.6)" fill="none" stroke="#8ab0e0" stroke-opacity="0.50" stroke-width="1.1"/>
<ellipse cx="588.4" cy="114.7" rx="2.6" ry="7.5" transform="rotate(33.2 588.4 114.7)" fill="none" stroke="#8ab0e0" stroke-opacity="0.50" stroke-width="1.1"/>
<ellipse cx="591.6" cy="116.8" rx="2.6" ry="7.6" transform="rotate(33.2 591.6 116.8)" fill="none" stroke="#8ab0e0" stroke-opacity="0.50" stroke-width="1.1"/>
<ellipse cx="594.9" cy="118.9" rx="2.6" ry="7.7" transform="rotate(33.2 594.9 118.9)" fill="none" stroke="#8ab0e0" stroke-opacity="0.50" stroke-width="1.1"/>
<ellipse cx="598.2" cy="121.1" rx="2.6" ry="7.8" transform="rotate(33.2 598.2 121.1)" fill="none" stroke="#8ab0e0" stroke-opacity="0.50" stroke-width="1.1"/>
<ellipse cx="601.4" cy="123.2" rx="2.6" ry="7.9" transform="rotate(33.2 601.4 123.2)" fill="none" stroke="#8ab0e0" stroke-opacity="0.50" stroke-width="1.1"/>
<ellipse cx="604.7" cy="125.3" rx="2.6" ry="8.0" transform="rotate(33.2 604.7 125.3)" fill="none" stroke="#8ab0e0" stroke-opacity="0.50" stroke-width="1.1"/>
<ellipse cx="607.9" cy="127.5" rx="2.6" ry="8.0" transform="rotate(33.2 607.9 127.5)" fill="none" stroke="#8ab0e0" stroke-opacity="0.50" stroke-width="1.1"/>
<ellipse cx="611.2" cy="129.6" rx="2.6" ry="8.1" transform="rotate(33.2 611.2 129.6)" fill="none" stroke="#8ab0e0" stroke-opacity="0.50" stroke-width="1.1"/>
<ellipse cx="614.5" cy="131.7" rx="2.6" ry="8.2" transform="rotate(33.2 614.5 131.7)" fill="none" stroke="#8ab0e0" stroke-opacity="0.50" stroke-width="1.1"/>
<ellipse cx="617.7" cy="133.9" rx="2.6" ry="8.3" transform="rotate(33.2 617.7 133.9)" fill="none" stroke="#8ab0e0" stroke-opacity="0.50" stroke-width="1.1"/>
<ellipse cx="621.0" cy="136.0" rx="2.6" ry="8.4" transform="rotate(33.2 621.0 136.0)" fill="none" stroke="#8ab0e0" stroke-opacity="0.50" stroke-width="1.1"/>
<ellipse cx="621.0" cy="136.0" rx="3.4" ry="8.2" transform="rotate(33.2 621.0 136.0)" fill="#4472b2" stroke="#86aee0" stroke-width="1.2"/>
<polygon points="16.7,104.2 63.3,97.0 53.6,140.3 7.0,147.5" fill="#e2e0f0" stroke="#f6f6fc" stroke-width="1.2" stroke-linejoin="round"/>
<polyline points="7.6,148.3 17.3,105.0 63.9,97.8" fill="none" stroke="#fbfbff" stroke-width="2.2" stroke-linejoin="round" stroke-linecap="round" opacity="0.9"/>
<line x1="29.0" y1="116.0" x2="25.0" y2="136.0" stroke="#f2d9c8" stroke-width="1" opacity="0.7"/>
<circle cx="29.0" cy="116.0" r="1.8" fill="#f3ea86"/>
<circle cx="25.0" cy="136.0" r="1.3" fill="#f3ea86"/>
<polygon points="31.5,140.0 33.5,121.0 42.0,115.0 52.5,111.8 59.0,113.5 65.0,117.5 71.0,124.0 73.5,130.5 84.0,135.5 93.0,138.5 100.0,145.0 108.0,154.0 109.5,161.5 104.0,165.5 97.0,168.0 94.0,175.5 88.5,182.0 82.0,179.5 75.0,172.5 67.0,167.5 64.5,160.0 57.0,155.5 50.0,154.5 43.0,151.5 34.0,146.5" fill="#0d6b7f" stroke="#0d6b7f" stroke-width="1" stroke-linejoin="round"/>
<polygon points="33.5,121.0 42.0,115.0 52.5,111.8 59.0,113.5 65.0,117.5 71.0,124.0 73.5,130.5 84.0,135.5 93.0,138.5 100.0,145.0 108.0,154.0 109.5,161.5 104.0,159.0 96.0,151.0 88.0,145.0 78.0,141.0 69.0,137.0 63.0,129.0 55.0,121.5 45.0,121.0 37.0,126.0" fill="#15849b" opacity="0.55"/>
<polygon points="31.5,140.0 33.5,121.0 37.0,126.0 36.0,143.0 43.0,149.0 50.0,152.0 57.0,153.0 64.5,158.0 67.0,165.5 75.0,170.5 82.0,177.5 88.5,180.0 88.5,182.0 82.0,179.5 75.0,172.5 67.0,167.5 64.5,160.0 57.0,155.5 50.0,154.5 43.0,151.5 34.0,146.5" fill="#0a586a" opacity="0.6"/>
<polygon points="65.8,153.5 71.0,151.0 77.3,152.0 79.0,158.0 78.3,165.3 75.0,167.8 69.0,168.3 66.3,166.0" fill="#c8123f" stroke="#a80c36" stroke-width="0.6" stroke-linejoin="round"/>
<circle cx="72.3" cy="159.8" r="1.3" fill="#6a3a5a"/>
<polygon points="46.5,144.8 47.5,138.3 51.5,135.8 52.5,129.8 59.0,126.3 62.5,129.3 60.5,134.8 59.5,139.8 55.5,141.8 53.0,146.3" fill="#dbeef8" stroke="#a4d2ea" stroke-width="1" stroke-linejoin="round"/>
<polygon points="110.0,89.6 156.6,82.4 146.9,125.7 100.3,132.9" fill="#e2e0f0" stroke="#f6f6fc" stroke-width="1.2" stroke-linejoin="round"/>
<polyline points="100.9,133.7 110.6,90.4 157.2,83.2" fill="none" stroke="#fbfbff" stroke-width="2.2" stroke-linejoin="round" stroke-linecap="round" opacity="0.9"/>
<line x1="122.3" y1="101.4" x2="118.3" y2="121.4" stroke="#f2d9c8" stroke-width="1" opacity="0.7"/>
<circle cx="122.3" cy="101.4" r="1.8" fill="#f3ea86"/>
<circle cx="118.3" cy="121.4" r="1.3" fill="#f3ea86"/>
<polygon points="124.8,125.4 126.8,106.4 135.3,100.4 145.8,97.2 152.3,98.9 158.3,102.9 164.3,109.4 166.8,115.9 177.3,120.9 186.3,123.9 193.3,130.4 201.3,139.4 202.8,146.9 197.3,150.9 190.3,153.4 187.3,160.9 181.8,167.4 175.3,164.9 168.3,157.9 160.3,152.9 157.8,145.4 150.3,140.9 143.3,139.9 136.3,136.9 127.3,131.9" fill="#0d6c80" stroke="#0d6c80" stroke-width="1" stroke-linejoin="round"/>
<polygon points="126.8,106.4 135.3,100.4 145.8,97.2 152.3,98.9 158.3,102.9 164.3,109.4 166.8,115.9 177.3,120.9 186.3,123.9 193.3,130.4 201.3,139.4 202.8,146.9 197.3,144.4 189.3,136.4 181.3,130.4 171.3,126.4 162.3,122.4 156.3,114.4 148.3,106.9 138.3,106.4 130.3,111.4" fill="#15859c" opacity="0.55"/>
<polygon points="124.8,125.4 126.8,106.4 130.3,111.4 129.3,128.4 136.3,134.4 143.3,137.4 150.3,138.4 157.8,143.4 160.3,150.9 168.3,155.9 175.3,162.9 181.8,165.4 181.8,167.4 175.3,164.9 168.3,157.9 160.3,152.9 157.8,145.4 150.3,140.9 143.3,139.9 136.3,136.9 127.3,131.9" fill="#0a596b" opacity="0.6"/>
<polygon points="159.1,138.9 164.3,136.4 170.6,137.4 172.3,143.4 171.6,150.7 168.3,153.2 162.3,153.7 159.6,151.4" fill="#c8123f" stroke="#a80c36" stroke-width="0.6" stroke-linejoin="round"/>
<circle cx="165.6" cy="145.2" r="1.3" fill="#6a3a5a"/>
<polygon points="139.8,130.2 140.8,123.7 144.8,121.2 145.8,115.2 152.3,111.7 155.8,114.7 153.8,120.2 152.8,125.2 148.8,127.2 146.3,131.7" fill="#dbeef8" stroke="#a4d2ea" stroke-width="1" stroke-linejoin="round"/>
<polygon points="203.3,75.0 249.9,67.8 240.2,111.1 193.6,118.3" fill="#e2e0f0" stroke="#f6f6fc" stroke-width="1.2" stroke-linejoin="round"/>
<polyline points="194.2,119.1 203.9,75.8 250.5,68.6" fill="none" stroke="#fbfbff" stroke-width="2.2" stroke-linejoin="round" stroke-linecap="round" opacity="0.9"/>
<line x1="215.6" y1="86.8" x2="211.6" y2="106.8" stroke="#f2d9c8" stroke-width="1" opacity="0.7"/>
<circle cx="215.6" cy="86.8" r="1.8" fill="#f3ea86"/>
<circle cx="211.6" cy="106.8" r="1.3" fill="#f3ea86"/>
<polygon points="218.1,110.8 220.1,91.8 228.6,85.8 239.1,82.6 245.6,84.3 251.6,88.3 257.6,94.8 260.1,101.3 270.6,106.3 279.6,109.3 286.6,115.8 294.6,124.8 296.1,132.3 290.6,136.3 283.6,138.8 280.6,146.3 275.1,152.8 268.6,150.3 261.6,143.3 253.6,138.3 251.1,130.8 243.6,126.3 236.6,125.3 229.6,122.3 220.6,117.3" fill="#0e6f83" stroke="#0e6f83" stroke-width="1" stroke-linejoin="round"/>
<polygon points="220.1,91.8 228.6,85.8 239.1,82.6 245.6,84.3 251.6,88.3 257.6,94.8 260.1,101.3 270.6,106.3 279.6,109.3 286.6,115.8 294.6,124.8 296.1,132.3 290.6,129.8 282.6,121.8 274.6,115.8 264.6,111.8 255.6,107.8 249.6,99.8 241.6,92.3 231.6,91.8 223.6,96.8" fill="#16889f" opacity="0.55"/>
<polygon points="218.1,110.8 220.1,91.8 223.6,96.8 222.6,113.8 229.6,119.8 236.6,122.8 243.6,123.8 251.1,128.8 253.6,136.3 261.6,141.3 268.6,148.3 275.1,150.8 275.1,152.8 268.6,150.3 261.6,143.3 253.6,138.3 251.1,130.8 243.6,126.3 236.6,125.3 229.6,122.3 220.6,117.3" fill="#0a5b6d" opacity="0.6"/>
<polygon points="252.4,124.3 257.6,121.8 263.9,122.8 265.6,128.8 264.9,136.1 261.6,138.6 255.6,139.1 252.9,136.8" fill="#c8123f" stroke="#a80c36" stroke-width="0.6" stroke-linejoin="round"/>
<circle cx="258.9" cy="130.6" r="1.3" fill="#6a3a5a"/>
<polygon points="233.1,115.6 234.1,109.1 238.1,106.6 239.1,100.6 245.6,97.1 249.1,100.1 247.1,105.6 246.1,110.6 242.1,112.6 239.6,117.1" fill="#dbeef8" stroke="#a4d2ea" stroke-width="1" stroke-linejoin="round"/>
<polygon points="296.2,60.0 342.8,52.8 333.1,96.1 286.5,103.3" fill="#e2e0f0" stroke="#f6f6fc" stroke-width="1.2" stroke-linejoin="round"/>
<polyline points="287.1,104.1 296.8,60.8 343.4,53.6" fill="none" stroke="#fbfbff" stroke-width="2.2" stroke-linejoin="round" stroke-linecap="round" opacity="0.9"/>
<line x1="308.5" y1="71.8" x2="304.5" y2="91.8" stroke="#f2d9c8" stroke-width="1" opacity="0.7"/>
<circle cx="308.5" cy="71.8" r="1.8" fill="#f3ea86"/>
<circle cx="304.5" cy="91.8" r="1.3" fill="#f3ea86"/>
<polygon points="311.0,95.8 313.0,76.8 321.5,70.8 332.0,67.6 338.5,69.3 344.5,73.3 350.5,79.8 353.0,86.3 363.5,91.3 372.5,94.3 379.5,100.8 387.5,109.8 389.0,117.3 383.5,121.3 376.5,123.8 373.5,131.3 368.0,137.8 361.5,135.3 354.5,128.3 346.5,123.3 344.0,115.8 336.5,111.3 329.5,110.3 322.5,107.3 313.5,102.3" fill="#0e7287" stroke="#0e7287" stroke-width="1" stroke-linejoin="round"/>
<polygon points="313.0,76.8 321.5,70.8 332.0,67.6 338.5,69.3 344.5,73.3 350.5,79.8 353.0,86.3 363.5,91.3 372.5,94.3 379.5,100.8 387.5,109.8 389.0,117.3 383.5,114.8 375.5,106.8 367.5,100.8 357.5,96.8 348.5,92.8 342.5,84.8 334.5,77.3 324.5,76.8 316.5,81.8" fill="#178ba2" opacity="0.55"/>
<polygon points="311.0,95.8 313.0,76.8 316.5,81.8 315.5,98.8 322.5,104.8 329.5,107.8 336.5,108.8 344.0,113.8 346.5,121.3 354.5,126.3 361.5,133.3 368.0,135.8 368.0,137.8 361.5,135.3 354.5,128.3 346.5,123.3 344.0,115.8 336.5,111.3 329.5,110.3 322.5,107.3 313.5,102.3" fill="#0b5e71" opacity="0.6"/>
<polygon points="345.3,109.3 350.5,106.8 356.8,107.8 358.5,113.8 357.8,121.1 354.5,123.6 348.5,124.1 345.8,121.8" fill="#c8123f" stroke="#a80c36" stroke-width="0.6" stroke-linejoin="round"/>
<circle cx="351.8" cy="115.6" r="1.3" fill="#6a3a5a"/>
<polygon points="326.0,100.6 327.0,94.1 331.0,91.6 332.0,85.6 338.5,82.1 342.0,85.1 340.0,90.6 339.0,95.6 335.0,97.6 332.5,102.1" fill="#dbeef8" stroke="#a4d2ea" stroke-width="1" stroke-linejoin="round"/>
<polygon points="389.1,44.6 435.7,37.4 426.0,80.7 379.4,87.9" fill="#e2e0f0" stroke="#f6f6fc" stroke-width="1.2" stroke-linejoin="round"/>
<polyline points="380.0,88.7 389.7,45.4 436.3,38.2" fill="none" stroke="#fbfbff" stroke-width="2.2" stroke-linejoin="round" stroke-linecap="round" opacity="0.9"/>
<line x1="401.4" y1="56.4" x2="397.4" y2="76.4" stroke="#f2d9c8" stroke-width="1" opacity="0.7"/>
<circle cx="401.4" cy="56.4" r="1.8" fill="#f3ea86"/>
<circle cx="397.4" cy="76.4" r="1.3" fill="#f3ea86"/>
<polygon points="403.9,80.4 405.9,61.4 414.4,55.4 424.9,52.2 431.4,53.9 437.4,57.9 443.4,64.4 445.9,70.9 456.4,75.9 465.4,78.9 472.4,85.4 480.4,94.4 481.9,101.9 476.4,105.9 469.4,108.4 466.4,115.9 460.9,122.4 454.4,119.9 447.4,112.9 439.4,107.9 436.9,100.4 429.4,95.9 422.4,94.9 415.4,91.9 406.4,86.9" fill="#0f768b" stroke="#0f768b" stroke-width="1" stroke-linejoin="round"/>
<polygon points="405.9,61.4 414.4,55.4 424.9,52.2 431.4,53.9 437.4,57.9 443.4,64.4 445.9,70.9 456.4,75.9 465.4,78.9 472.4,85.4 480.4,94.4 481.9,101.9 476.4,99.4 468.4,91.4 460.4,85.4 450.4,81.4 441.4,77.4 435.4,69.4 427.4,61.9 417.4,61.4 409.4,66.4" fill="#188fa6" opacity="0.55"/>
<polygon points="403.9,80.4 405.9,61.4 409.4,66.4 408.4,83.4 415.4,89.4 422.4,92.4 429.4,93.4 436.9,98.4 439.4,105.9 447.4,110.9 454.4,117.9 460.9,120.4 460.9,122.4 454.4,119.9 447.4,112.9 439.4,107.9 436.9,100.4 429.4,95.9 422.4,94.9 415.4,91.9 406.4,86.9" fill="#0b6174" opacity="0.6"/>
<polygon points="438.2,93.9 443.4,91.4 449.7,92.4 451.4,98.4 450.7,105.7 447.4,108.2 441.4,108.7 438.7,106.4" fill="#c8123f" stroke="#a80c36" stroke-width="0.6" stroke-linejoin="round"/>
<circle cx="444.7" cy="100.2" r="1.3" fill="#6a3a5a"/>
<polygon points="418.9,85.2 419.9,78.7 423.9,76.2 424.9,70.2 431.4,66.7 434.9,69.7 432.9,75.2 431.9,80.2 427.9,82.2 425.4,86.7" fill="#dbeef8" stroke="#a4d2ea" stroke-width="1" stroke-linejoin="round"/>
<polygon points="482.0,29.5 528.6,22.3 518.9,65.6 472.3,72.8" fill="#e2e0f0" stroke="#f6f6fc" stroke-width="1.2" stroke-linejoin="round"/>
<polyline points="472.9,73.6 482.6,30.3 529.2,23.1" fill="none" stroke="#fbfbff" stroke-width="2.2" stroke-linejoin="round" stroke-linecap="round" opacity="0.9"/>
<line x1="494.3" y1="41.3" x2="490.3" y2="61.3" stroke="#f2d9c8" stroke-width="1" opacity="0.7"/>
<circle cx="494.3" cy="41.3" r="1.8" fill="#f3ea86"/>
<circle cx="490.3" cy="61.3" r="1.3" fill="#f3ea86"/>
<polygon points="496.8,65.3 498.8,46.3 507.3,40.3 517.8,37.1 524.3,38.8 530.3,42.8 536.3,49.3 538.8,55.8 549.3,60.8 558.3,63.8 565.3,70.3 573.3,79.3 574.8,86.8 569.3,90.8 562.3,93.3 559.3,100.8 553.8,107.3 547.3,104.8 540.3,97.8 532.3,92.8 529.8,85.3 522.3,80.8 515.3,79.8 508.3,76.8 499.3,71.8" fill="#107a8f" stroke="#107a8f" stroke-width="1" stroke-linejoin="round"/>
<polygon points="498.8,46.3 507.3,40.3 517.8,37.1 524.3,38.8 530.3,42.8 536.3,49.3 538.8,55.8 549.3,60.8 558.3,63.8 565.3,70.3 573.3,79.3 574.8,86.8 569.3,84.3 561.3,76.3 553.3,70.3 543.3,66.3 534.3,62.3 528.3,54.3 520.3,46.8 510.3,46.3 502.3,51.3" fill="#1992aa" opacity="0.55"/>
<polygon points="496.8,65.3 498.8,46.3 502.3,51.3 501.3,68.3 508.3,74.3 515.3,77.3 522.3,78.3 529.8,83.3 532.3,90.8 540.3,95.8 547.3,102.8 553.8,105.3 553.8,107.3 547.3,104.8 540.3,97.8 532.3,92.8 529.8,85.3 522.3,80.8 515.3,79.8 508.3,76.8 499.3,71.8" fill="#0b6477" opacity="0.6"/>
<polygon points="531.1,78.8 536.3,76.3 542.6,77.3 544.3,83.3 543.6,90.6 540.3,93.1 534.3,93.6 531.6,91.3" fill="#c8123f" stroke="#a80c36" stroke-width="0.6" stroke-linejoin="round"/>
<circle cx="537.6" cy="85.1" r="1.3" fill="#6a3a5a"/>
<polygon points="511.8,70.1 512.8,63.6 516.8,61.1 517.8,55.1 524.3,51.6 527.8,54.6 525.8,60.1 524.8,65.1 520.8,67.1 518.3,71.6" fill="#dbeef8" stroke="#a4d2ea" stroke-width="1" stroke-linejoin="round"/>
<polygon points="211.5,142.5 215.5,144.5 213,149.5 216.5,151.5 208.5,155.5 206.5,147 210,148.5" fill="#c0182c"/>
<polygon points="195,168 202,172.5 198.5,174.5 200,180 195,181.5 193.5,176 190,177" fill="#c0182c"/>
<polygon points="280.0,92.0 284.5,91.5 289.5,101.0 294.0,105.0 288.5,113.5 282.0,128.0 267.0,141.5 262.5,149.0 256.5,147.0 251.0,144.5 246.0,141.0 239.5,133.0 238.5,130.0 240.0,126.5 248.5,117.5 265.0,106.5 276.7,94.2" fill="#fbfcff" stroke="#e4ebf4" stroke-width="0.8" stroke-linejoin="round"/>
<path d="M267,141.5 L282,128 L288.5,113.5 L294,105 L290,104 L284,112 L277.5,125 L263,137.5 Z" fill="#b4c4d8"/>
<path d="M245.5,134.5 l-0.8,5.5" stroke="#1a4a6e" stroke-width="1.3" stroke-linecap="round"/>
<path d="M250.5,137.5 l-0.8,5.5" stroke="#1a4a6e" stroke-width="1.3" stroke-linecap="round"/>
<path d="M256.0,140.5 l-0.8,5.5" stroke="#1a4a6e" stroke-width="1.3" stroke-linecap="round"/>
<path d="M261.5,143.0 l-0.8,5.5" stroke="#1a4a6e" stroke-width="1.3" stroke-linecap="round"/>
<path d="M168.7,315.9 L171.4,318.0 L174.2,320.1 L176.9,322.3 L179.7,324.4 L182.4,326.5 L185.2,328.6 L187.9,330.8 L190.7,332.9 L193.4,335.0 L196.2,337.1 L198.9,339.3 L201.7,341.4" fill="none" stroke="#2a2a2a" stroke-width="9.5" stroke-linecap="butt" stroke-linejoin="round" />
<path d="M168.7,315.9 L171.4,318.0 L174.2,320.1 L176.9,322.3 L179.7,324.4 L182.4,326.5 L185.2,328.6 L187.9,330.8 L190.7,332.9 L193.4,335.0 L196.2,337.1 L198.9,339.3 L201.7,341.4" fill="none" stroke="#484848" stroke-width="7.7" stroke-linecap="butt" stroke-linejoin="round" />
<path d="M168.7,315.9 L171.4,318.0 L174.2,320.1 L176.9,322.3 L179.7,324.4 L182.4,326.5 L185.2,328.6 L187.9,330.8 L190.7,332.9 L193.4,335.0 L196.2,337.1 L198.9,339.3 L201.7,341.4" fill="none" stroke="#6e6e6e" stroke-width="3.2" stroke-linecap="butt" stroke-linejoin="round" transform="translate(0.9,-1.4)"/>
<path d="M172.4,311.1 L175.2,313.2 L177.9,315.3 L180.7,317.4 L183.4,319.6 L186.2,321.7 L188.9,323.8 L191.7,325.9 L194.4,328.1 L197.2,330.2 L199.9,332.3 L202.7,334.4 L205.4,336.6" fill="none" stroke="#2a2a2a" stroke-width="9.5" stroke-linecap="butt" stroke-linejoin="round" />
<path d="M172.4,311.1 L175.2,313.2 L177.9,315.3 L180.7,317.4 L183.4,319.6 L186.2,321.7 L188.9,323.8 L191.7,325.9 L194.4,328.1 L197.2,330.2 L199.9,332.3 L202.7,334.4 L205.4,336.6" fill="none" stroke="#484848" stroke-width="7.7" stroke-linecap="butt" stroke-linejoin="round" />
<path d="M172.4,311.1 L175.2,313.2 L177.9,315.3 L180.7,317.4 L183.4,319.6 L186.2,321.7 L188.9,323.8 L191.7,325.9 L194.4,328.1 L197.2,330.2 L199.9,332.3 L202.7,334.4 L205.4,336.6" fill="none" stroke="#6e6e6e" stroke-width="3.2" stroke-linecap="butt" stroke-linejoin="round" transform="translate(0.9,-1.4)"/>
<path d="M165.6,319.9 L168.3,322.1 L171.1,324.2 L173.8,326.3 L176.6,328.4 L179.3,330.6 L182.1,332.7 L184.8,334.8 L187.6,336.9 L190.3,339.1 L193.1,341.2 L195.8,343.3 L198.6,345.4" fill="none" stroke="#2a2a2a" stroke-width="9.5" stroke-linecap="butt" stroke-linejoin="round" />
<path d="M165.6,319.9 L168.3,322.1 L171.1,324.2 L173.8,326.3 L176.6,328.4 L179.3,330.6 L182.1,332.7 L184.8,334.8 L187.6,336.9 L190.3,339.1 L193.1,341.2 L195.8,343.3 L198.6,345.4" fill="none" stroke="#484848" stroke-width="7.7" stroke-linecap="butt" stroke-linejoin="round" />
<path d="M165.6,319.9 L168.3,322.1 L171.1,324.2 L173.8,326.3 L176.6,328.4 L179.3,330.6 L182.1,332.7 L184.8,334.8 L187.6,336.9 L190.3,339.1 L193.1,341.2 L195.8,343.3 L198.6,345.4" fill="none" stroke="#6e6e6e" stroke-width="3.2" stroke-linecap="butt" stroke-linejoin="round" transform="translate(0.9,-1.4)"/>
<polygon points="203.0,334.3 260.0,369.4 251.0,383.6 195.0,346.7" fill="#1b3f7c"/>
<polygon points="202.3,335.3 259.3,370.6 251.7,382.4 195.7,345.7" fill="#27549a"/>
<polygon points="202.0,335.8 258.9,371.2 256.0,375.8 199.4,339.9" fill="#3f70b8" opacity="0.7"/>
<ellipse cx="199.0" cy="340.5" rx="2.6" ry="6.8" transform="rotate(32.5 199.0 340.5)" fill="none" stroke="#8ab0e0" stroke-opacity="0.35" stroke-width="1.1"/>
<ellipse cx="202.3" cy="342.6" rx="2.6" ry="6.9" transform="rotate(32.5 202.3 342.6)" fill="none" stroke="#8ab0e0" stroke-opacity="0.35" stroke-width="1.1"/>
<ellipse cx="205.6" cy="344.7" rx="2.6" ry="6.9" transform="rotate(32.5 205.6 344.7)" fill="none" stroke="#8ab0e0" stroke-opacity="0.35" stroke-width="1.1"/>
<ellipse cx="209.0" cy="346.9" rx="2.6" ry="7.0" transform="rotate(32.5 209.0 346.9)" fill="none" stroke="#8ab0e0" stroke-opacity="0.35" stroke-width="1.1"/>
<ellipse cx="212.3" cy="349.0" rx="2.6" ry="7.0" transform="rotate(32.5 212.3 349.0)" fill="none" stroke="#8ab0e0" stroke-opacity="0.35" stroke-width="1.1"/>
<ellipse cx="215.6" cy="351.1" rx="2.6" ry="7.1" transform="rotate(32.5 215.6 351.1)" fill="none" stroke="#8ab0e0" stroke-opacity="0.35" stroke-width="1.1"/>
<ellipse cx="218.9" cy="353.2" rx="2.6" ry="7.2" transform="rotate(32.5 218.9 353.2)" fill="none" stroke="#8ab0e0" stroke-opacity="0.35" stroke-width="1.1"/>
<ellipse cx="222.3" cy="355.3" rx="2.6" ry="7.2" transform="rotate(32.5 222.3 355.3)" fill="none" stroke="#8ab0e0" stroke-opacity="0.35" stroke-width="1.1"/>
<ellipse cx="225.6" cy="357.4" rx="2.6" ry="7.3" transform="rotate(32.5 225.6 357.4)" fill="none" stroke="#8ab0e0" stroke-opacity="0.35" stroke-width="1.1"/>
<ellipse cx="228.9" cy="359.6" rx="2.6" ry="7.3" transform="rotate(32.5 228.9 359.6)" fill="none" stroke="#8ab0e0" stroke-opacity="0.35" stroke-width="1.1"/>
<ellipse cx="232.2" cy="361.7" rx="2.6" ry="7.4" transform="rotate(32.5 232.2 361.7)" fill="none" stroke="#8ab0e0" stroke-opacity="0.35" stroke-width="1.1"/>
<ellipse cx="235.6" cy="363.8" rx="2.6" ry="7.4" transform="rotate(32.5 235.6 363.8)" fill="none" stroke="#8ab0e0" stroke-opacity="0.35" stroke-width="1.1"/>
<ellipse cx="238.9" cy="365.9" rx="2.6" ry="7.5" transform="rotate(32.5 238.9 365.9)" fill="none" stroke="#8ab0e0" stroke-opacity="0.35" stroke-width="1.1"/>
<ellipse cx="242.2" cy="368.0" rx="2.6" ry="7.6" transform="rotate(32.5 242.2 368.0)" fill="none" stroke="#8ab0e0" stroke-opacity="0.35" stroke-width="1.1"/>
<ellipse cx="245.5" cy="370.1" rx="2.6" ry="7.6" transform="rotate(32.5 245.5 370.1)" fill="none" stroke="#8ab0e0" stroke-opacity="0.35" stroke-width="1.1"/>
<ellipse cx="248.9" cy="372.3" rx="2.6" ry="7.7" transform="rotate(32.5 248.9 372.3)" fill="none" stroke="#8ab0e0" stroke-opacity="0.35" stroke-width="1.1"/>
<ellipse cx="252.2" cy="374.4" rx="2.6" ry="7.7" transform="rotate(32.5 252.2 374.4)" fill="none" stroke="#8ab0e0" stroke-opacity="0.35" stroke-width="1.1"/>
<ellipse cx="255.5" cy="376.5" rx="2.6" ry="7.8" transform="rotate(32.5 255.5 376.5)" fill="none" stroke="#8ab0e0" stroke-opacity="0.35" stroke-width="1.1"/>
<ellipse cx="255.5" cy="376.5" rx="3.4" ry="7.6" transform="rotate(32.5 255.5 376.5)" fill="#3a68ac" stroke="#86aee0" stroke-width="1.2"/>
<path d="M286.1,299.2 L287.4,300.2 L289.0,301.4 L290.9,302.8 L293.0,304.4 L295.2,306.2 L297.6,308.0 L300.0,309.8 L302.5,311.7 L304.9,313.4 L307.2,315.1 L309.3,316.6 L311.3,318.0 L313.1,319.2 L314.9,320.3 L316.6,321.4 L318.3,322.5 L319.9,323.5 L321.5,324.4 L323.0,325.3 L324.6,326.2 L326.1,327.0 L327.7,327.8 L329.2,328.5 L330.8,329.3 L332.4,330.0 L334.0,330.6 L335.6,331.3 L337.3,331.9 L338.9,332.5 L340.5,333.0 L342.1,333.5 L343.6,334.0 L345.2,334.4 L346.7,334.8 L348.2,335.2 L349.6,335.5 L351.0,335.7 L352.3,335.9 L353.7,336.1 L355.1,336.2 L356.4,336.3 L357.7,336.3 L359.0,336.4 L360.3,336.4 L361.5,336.3 L362.7,336.3 L363.9,336.2 L365.0,336.1 L366.1,335.9 L367.1,335.8 L368.1,335.6 L369.1,335.3 L370.0,335.1 L371.0,334.8 L371.8,334.5 L372.6,334.2 L373.3,333.9 L374.0,333.6 L374.6,333.3 L375.0,333.1 L375.3,332.9 L375.5,332.7 L375.7,332.5 L376.0,332.3 L376.2,332.0 L376.5,331.6 L376.7,331.3 L376.9,330.9 L377.1,330.5 L377.3,330.2 L377.4,329.9 L377.4,329.8 L377.3,330.3 L377.2,330.9 L377.2,331.3 L377.3,331.5 L377.3,331.6 L377.2,331.5 L377.2,331.3 L377.1,331.0 L376.9,330.6 L376.7,330.0 L376.4,329.2 L376.3,328.5" fill="none" stroke="#2a2a2a" stroke-width="9.5" stroke-linecap="round" stroke-linejoin="round" />
<path d="M286.1,299.2 L287.4,300.2 L289.0,301.4 L290.9,302.8 L293.0,304.4 L295.2,306.2 L297.6,308.0 L300.0,309.8 L302.5,311.7 L304.9,313.4 L307.2,315.1 L309.3,316.6 L311.3,318.0 L313.1,319.2 L314.9,320.3 L316.6,321.4 L318.3,322.5 L319.9,323.5 L321.5,324.4 L323.0,325.3 L324.6,326.2 L326.1,327.0 L327.7,327.8 L329.2,328.5 L330.8,329.3 L332.4,330.0 L334.0,330.6 L335.6,331.3 L337.3,331.9 L338.9,332.5 L340.5,333.0 L342.1,333.5 L343.6,334.0 L345.2,334.4 L346.7,334.8 L348.2,335.2 L349.6,335.5 L351.0,335.7 L352.3,335.9 L353.7,336.1 L355.1,336.2 L356.4,336.3 L357.7,336.3 L359.0,336.4 L360.3,336.4 L361.5,336.3 L362.7,336.3 L363.9,336.2 L365.0,336.1 L366.1,335.9 L367.1,335.8 L368.1,335.6 L369.1,335.3 L370.0,335.1 L371.0,334.8 L371.8,334.5 L372.6,334.2 L373.3,333.9 L374.0,333.6 L374.6,333.3 L375.0,333.1 L375.3,332.9 L375.5,332.7 L375.7,332.5 L376.0,332.3 L376.2,332.0 L376.5,331.6 L376.7,331.3 L376.9,330.9 L377.1,330.5 L377.3,330.2 L377.4,329.9 L377.4,329.8 L377.3,330.3 L377.2,330.9 L377.2,331.3 L377.3,331.5 L377.3,331.6 L377.2,331.5 L377.2,331.3 L377.1,331.0 L376.9,330.6 L376.7,330.0 L376.4,329.2 L376.3,328.5" fill="none" stroke="#484848" stroke-width="7.7" stroke-linecap="round" stroke-linejoin="round" />
<path d="M286.1,299.2 L287.4,300.2 L289.0,301.4 L290.9,302.8 L293.0,304.4 L295.2,306.2 L297.6,308.0 L300.0,309.8 L302.5,311.7 L304.9,313.4 L307.2,315.1 L309.3,316.6 L311.3,318.0 L313.1,319.2 L314.9,320.3 L316.6,321.4 L318.3,322.5 L319.9,323.5 L321.5,324.4 L323.0,325.3 L324.6,326.2 L326.1,327.0 L327.7,327.8 L329.2,328.5 L330.8,329.3 L332.4,330.0 L334.0,330.6 L335.6,331.3 L337.3,331.9 L338.9,332.5 L340.5,333.0 L342.1,333.5 L343.6,334.0 L345.2,334.4 L346.7,334.8 L348.2,335.2 L349.6,335.5 L351.0,335.7 L352.3,335.9 L353.7,336.1 L355.1,336.2 L356.4,336.3 L357.7,336.3 L359.0,336.4 L360.3,336.4 L361.5,336.3 L362.7,336.3 L363.9,336.2 L365.0,336.1 L366.1,335.9 L367.1,335.8 L368.1,335.6 L369.1,335.3 L370.0,335.1 L371.0,334.8 L371.8,334.5 L372.6,334.2 L373.3,333.9 L374.0,333.6 L374.6,333.3 L375.0,333.1 L375.3,332.9 L375.5,332.7 L375.7,332.5 L376.0,332.3 L376.2,332.0 L376.5,331.6 L376.7,331.3 L376.9,330.9 L377.1,330.5 L377.3,330.2 L377.4,329.9 L377.4,329.8 L377.3,330.3 L377.2,330.9 L377.2,331.3 L377.3,331.5 L377.3,331.6 L377.2,331.5 L377.2,331.3 L377.1,331.0 L376.9,330.6 L376.7,330.0 L376.4,329.2 L376.3,328.5" fill="none" stroke="#6e6e6e" stroke-width="3.2" stroke-linecap="round" stroke-linejoin="round" transform="translate(0.9,-1.4)"/>
<path d="M281.0,306.0 L282.2,306.9 L283.8,308.1 L285.7,309.6 L287.8,311.2 L290.1,312.9 L292.4,314.8 L294.9,316.6 L297.4,318.5 L299.9,320.3 L302.2,322.0 L304.5,323.6 L306.5,325.0 L308.4,326.3 L310.2,327.5 L312.0,328.6 L313.8,329.7 L315.5,330.8 L317.2,331.8 L318.9,332.7 L320.5,333.6 L322.2,334.5 L323.9,335.4 L325.6,336.2 L327.3,337.0 L329.0,337.8 L330.8,338.5 L332.5,339.2 L334.3,339.9 L336.1,340.5 L337.8,341.1 L339.6,341.7 L341.3,342.2 L343.0,342.7 L344.7,343.1 L346.4,343.5 L348.0,343.8 L349.6,344.1 L351.2,344.3 L352.8,344.5 L354.4,344.7 L355.9,344.8 L357.4,344.8 L359.0,344.9 L360.4,344.9 L361.9,344.8 L363.3,344.7 L364.7,344.6 L366.0,344.5 L367.3,344.3 L368.6,344.1 L369.9,343.9 L371.1,343.6 L372.3,343.3 L373.5,342.9 L374.6,342.6 L375.7,342.1 L376.8,341.7 L377.7,341.3 L378.7,340.8 L379.5,340.3 L380.3,339.8 L381.0,339.2 L381.7,338.6 L382.3,337.9 L382.9,337.2 L383.4,336.5 L383.9,335.8 L384.3,335.1 L384.7,334.4 L385.0,333.7 L385.3,333.1 L385.5,332.5 L385.7,331.9 L385.7,331.3 L385.7,330.7 L385.6,330.1 L385.5,329.6 L385.4,329.0 L385.2,328.5 L385.0,328.0 L384.8,327.5 L384.7,327.1 L384.6,326.8 L384.5,326.5" fill="none" stroke="#2a2a2a" stroke-width="9.5" stroke-linecap="round" stroke-linejoin="round" />
<path d="M281.0,306.0 L282.2,306.9 L283.8,308.1 L285.7,309.6 L287.8,311.2 L290.1,312.9 L292.4,314.8 L294.9,316.6 L297.4,318.5 L299.9,320.3 L302.2,322.0 L304.5,323.6 L306.5,325.0 L308.4,326.3 L310.2,327.5 L312.0,328.6 L313.8,329.7 L315.5,330.8 L317.2,331.8 L318.9,332.7 L320.5,333.6 L322.2,334.5 L323.9,335.4 L325.6,336.2 L327.3,337.0 L329.0,337.8 L330.8,338.5 L332.5,339.2 L334.3,339.9 L336.1,340.5 L337.8,341.1 L339.6,341.7 L341.3,342.2 L343.0,342.7 L344.7,343.1 L346.4,343.5 L348.0,343.8 L349.6,344.1 L351.2,344.3 L352.8,344.5 L354.4,344.7 L355.9,344.8 L357.4,344.8 L359.0,344.9 L360.4,344.9 L361.9,344.8 L363.3,344.7 L364.7,344.6 L366.0,344.5 L367.3,344.3 L368.6,344.1 L369.9,343.9 L371.1,343.6 L372.3,343.3 L373.5,342.9 L374.6,342.6 L375.7,342.1 L376.8,341.7 L377.7,341.3 L378.7,340.8 L379.5,340.3 L380.3,339.8 L381.0,339.2 L381.7,338.6 L382.3,337.9 L382.9,337.2 L383.4,336.5 L383.9,335.8 L384.3,335.1 L384.7,334.4 L385.0,333.7 L385.3,333.1 L385.5,332.5 L385.7,331.9 L385.7,331.3 L385.7,330.7 L385.6,330.1 L385.5,329.6 L385.4,329.0 L385.2,328.5 L385.0,328.0 L384.8,327.5 L384.7,327.1 L384.6,326.8 L384.5,326.5" fill="none" stroke="#484848" stroke-width="7.7" stroke-linecap="round" stroke-linejoin="round" />
<path d="M281.0,306.0 L282.2,306.9 L283.8,308.1 L285.7,309.6 L287.8,311.2 L290.1,312.9 L292.4,314.8 L294.9,316.6 L297.4,318.5 L299.9,320.3 L302.2,322.0 L304.5,323.6 L306.5,325.0 L308.4,326.3 L310.2,327.5 L312.0,328.6 L313.8,329.7 L315.5,330.8 L317.2,331.8 L318.9,332.7 L320.5,333.6 L322.2,334.5 L323.9,335.4 L325.6,336.2 L327.3,337.0 L329.0,337.8 L330.8,338.5 L332.5,339.2 L334.3,339.9 L336.1,340.5 L337.8,341.1 L339.6,341.7 L341.3,342.2 L343.0,342.7 L344.7,343.1 L346.4,343.5 L348.0,343.8 L349.6,344.1 L351.2,344.3 L352.8,344.5 L354.4,344.7 L355.9,344.8 L357.4,344.8 L359.0,344.9 L360.4,344.9 L361.9,344.8 L363.3,344.7 L364.7,344.6 L366.0,344.5 L367.3,344.3 L368.6,344.1 L369.9,343.9 L371.1,343.6 L372.3,343.3 L373.5,342.9 L374.6,342.6 L375.7,342.1 L376.8,341.7 L377.7,341.3 L378.7,340.8 L379.5,340.3 L380.3,339.8 L381.0,339.2 L381.7,338.6 L382.3,337.9 L382.9,337.2 L383.4,336.5 L383.9,335.8 L384.3,335.1 L384.7,334.4 L385.0,333.7 L385.3,333.1 L385.5,332.5 L385.7,331.9 L385.7,331.3 L385.7,330.7 L385.6,330.1 L385.5,329.6 L385.4,329.0 L385.2,328.5 L385.0,328.0 L384.8,327.5 L384.7,327.1 L384.6,326.8 L384.5,326.5" fill="none" stroke="#6e6e6e" stroke-width="3.2" stroke-linecap="round" stroke-linejoin="round" transform="translate(0.9,-1.4)"/>
<path d="M275.9,312.8 L277.1,313.7 L278.7,314.9 L280.5,316.3 L282.6,317.9 L284.9,319.7 L287.3,321.5 L289.8,323.4 L292.3,325.3 L294.8,327.2 L297.3,328.9 L299.6,330.6 L301.7,332.0 L303.7,333.4 L305.6,334.6 L307.5,335.8 L309.3,336.9 L311.1,338.0 L312.9,339.1 L314.7,340.1 L316.5,341.1 L318.3,342.1 L320.1,343.0 L321.9,343.9 L323.8,344.7 L325.7,345.6 L327.6,346.4 L329.5,347.1 L331.4,347.9 L333.3,348.5 L335.2,349.2 L337.1,349.8 L339.0,350.3 L340.8,350.9 L342.7,351.3 L344.6,351.8 L346.4,352.1 L348.2,352.5 L350.1,352.7 L351.9,353.0 L353.7,353.1 L355.4,353.3 L357.2,353.3 L358.9,353.4 L360.6,353.4 L362.2,353.3 L363.8,353.2 L365.4,353.1 L367.0,352.9 L368.5,352.7 L370.1,352.5 L371.6,352.2 L373.1,351.9 L374.6,351.5 L376.0,351.0 L377.5,350.6 L378.8,350.1 L380.2,349.5 L381.5,348.9 L382.7,348.2 L384.0,347.5 L385.3,346.6 L386.6,345.6 L387.7,344.6 L388.7,343.5 L389.6,342.5 L390.4,341.4 L391.1,340.3 L391.7,339.3 L392.2,338.3 L392.7,337.3 L393.1,336.3 L393.6,335.2 L394.0,333.5 L394.2,331.8 L394.2,330.2 L394.0,328.8 L393.8,327.6 L393.5,326.5 L393.2,325.7 L393.0,325.0 L392.8,324.5 L392.7,324.2 L392.7,324.3 L392.7,324.5" fill="none" stroke="#2a2a2a" stroke-width="9.5" stroke-linecap="round" stroke-linejoin="round" />
<path d="M275.9,312.8 L277.1,313.7 L278.7,314.9 L280.5,316.3 L282.6,317.9 L284.9,319.7 L287.3,321.5 L289.8,323.4 L292.3,325.3 L294.8,327.2 L297.3,328.9 L299.6,330.6 L301.7,332.0 L303.7,333.4 L305.6,334.6 L307.5,335.8 L309.3,336.9 L311.1,338.0 L312.9,339.1 L314.7,340.1 L316.5,341.1 L318.3,342.1 L320.1,343.0 L321.9,343.9 L323.8,344.7 L325.7,345.6 L327.6,346.4 L329.5,347.1 L331.4,347.9 L333.3,348.5 L335.2,349.2 L337.1,349.8 L339.0,350.3 L340.8,350.9 L342.7,351.3 L344.6,351.8 L346.4,352.1 L348.2,352.5 L350.1,352.7 L351.9,353.0 L353.7,353.1 L355.4,353.3 L357.2,353.3 L358.9,353.4 L360.6,353.4 L362.2,353.3 L363.8,353.2 L365.4,353.1 L367.0,352.9 L368.5,352.7 L370.1,352.5 L371.6,352.2 L373.1,351.9 L374.6,351.5 L376.0,351.0 L377.5,350.6 L378.8,350.1 L380.2,349.5 L381.5,348.9 L382.7,348.2 L384.0,347.5 L385.3,346.6 L386.6,345.6 L387.7,344.6 L388.7,343.5 L389.6,342.5 L390.4,341.4 L391.1,340.3 L391.7,339.3 L392.2,338.3 L392.7,337.3 L393.1,336.3 L393.6,335.2 L394.0,333.5 L394.2,331.8 L394.2,330.2 L394.0,328.8 L393.8,327.6 L393.5,326.5 L393.2,325.7 L393.0,325.0 L392.8,324.5 L392.7,324.2 L392.7,324.3 L392.7,324.5" fill="none" stroke="#484848" stroke-width="7.7" stroke-linecap="round" stroke-linejoin="round" />
<path d="M275.9,312.8 L277.1,313.7 L278.7,314.9 L280.5,316.3 L282.6,317.9 L284.9,319.7 L287.3,321.5 L289.8,323.4 L292.3,325.3 L294.8,327.2 L297.3,328.9 L299.6,330.6 L301.7,332.0 L303.7,333.4 L305.6,334.6 L307.5,335.8 L309.3,336.9 L311.1,338.0 L312.9,339.1 L314.7,340.1 L316.5,341.1 L318.3,342.1 L320.1,343.0 L321.9,343.9 L323.8,344.7 L325.7,345.6 L327.6,346.4 L329.5,347.1 L331.4,347.9 L333.3,348.5 L335.2,349.2 L337.1,349.8 L339.0,350.3 L340.8,350.9 L342.7,351.3 L344.6,351.8 L346.4,352.1 L348.2,352.5 L350.1,352.7 L351.9,353.0 L353.7,353.1 L355.4,353.3 L357.2,353.3 L358.9,353.4 L360.6,353.4 L362.2,353.3 L363.8,353.2 L365.4,353.1 L367.0,352.9 L368.5,352.7 L370.1,352.5 L371.6,352.2 L373.1,351.9 L374.6,351.5 L376.0,351.0 L377.5,350.6 L378.8,350.1 L380.2,349.5 L381.5,348.9 L382.7,348.2 L384.0,347.5 L385.3,346.6 L386.6,345.6 L387.7,344.6 L388.7,343.5 L389.6,342.5 L390.4,341.4 L391.1,340.3 L391.7,339.3 L392.2,338.3 L392.7,337.3 L393.1,336.3 L393.6,335.2 L394.0,333.5 L394.2,331.8 L394.2,330.2 L394.0,328.8 L393.8,327.6 L393.5,326.5 L393.2,325.7 L393.0,325.0 L392.8,324.5 L392.7,324.2 L392.7,324.3 L392.7,324.5" fill="none" stroke="#6e6e6e" stroke-width="3.2" stroke-linecap="round" stroke-linejoin="round" transform="translate(0.9,-1.4)"/>
<polygon points="378.9,331.0 328.6,301.5 338.4,285.1 388.1,315.6" fill="#1d417d"/>
<polygon points="379.5,330.0 329.2,300.4 337.8,286.2 387.5,316.6" fill="#29569b"/>
<polygon points="380.0,329.1 329.8,299.5 333.0,294.1 383.0,324.1" fill="#4374ba" opacity="0.7"/>
<ellipse cx="383.5" cy="323.3" rx="2.6" ry="8.4" transform="rotate(-149.0 383.5 323.3)" fill="none" stroke="#8ab0e0" stroke-opacity="0.38" stroke-width="1.1"/>
<ellipse cx="380.2" cy="321.3" rx="2.6" ry="8.4" transform="rotate(-149.0 380.2 321.3)" fill="none" stroke="#8ab0e0" stroke-opacity="0.38" stroke-width="1.1"/>
<ellipse cx="376.8" cy="319.3" rx="2.6" ry="8.5" transform="rotate(-149.0 376.8 319.3)" fill="none" stroke="#8ab0e0" stroke-opacity="0.38" stroke-width="1.1"/>
<ellipse cx="373.5" cy="317.3" rx="2.6" ry="8.5" transform="rotate(-149.0 373.5 317.3)" fill="none" stroke="#8ab0e0" stroke-opacity="0.38" stroke-width="1.1"/>
<ellipse cx="370.2" cy="315.3" rx="2.6" ry="8.6" transform="rotate(-149.0 370.2 315.3)" fill="none" stroke="#8ab0e0" stroke-opacity="0.38" stroke-width="1.1"/>
<ellipse cx="366.8" cy="313.3" rx="2.6" ry="8.6" transform="rotate(-149.0 366.8 313.3)" fill="none" stroke="#8ab0e0" stroke-opacity="0.38" stroke-width="1.1"/>
<ellipse cx="363.5" cy="311.3" rx="2.6" ry="8.6" transform="rotate(-149.0 363.5 311.3)" fill="none" stroke="#8ab0e0" stroke-opacity="0.38" stroke-width="1.1"/>
<ellipse cx="360.2" cy="309.3" rx="2.6" ry="8.7" transform="rotate(-149.0 360.2 309.3)" fill="none" stroke="#8ab0e0" stroke-opacity="0.38" stroke-width="1.1"/>
<ellipse cx="356.8" cy="307.3" rx="2.6" ry="8.7" transform="rotate(-149.0 356.8 307.3)" fill="none" stroke="#8ab0e0" stroke-opacity="0.38" stroke-width="1.1"/>
<ellipse cx="353.5" cy="305.3" rx="2.6" ry="8.8" transform="rotate(-149.0 353.5 305.3)" fill="none" stroke="#8ab0e0" stroke-opacity="0.38" stroke-width="1.1"/>
<ellipse cx="350.2" cy="303.3" rx="2.6" ry="8.8" transform="rotate(-149.0 350.2 303.3)" fill="none" stroke="#8ab0e0" stroke-opacity="0.38" stroke-width="1.1"/>
<ellipse cx="346.8" cy="301.3" rx="2.6" ry="8.8" transform="rotate(-149.0 346.8 301.3)" fill="none" stroke="#8ab0e0" stroke-opacity="0.38" stroke-width="1.1"/>
<ellipse cx="343.5" cy="299.3" rx="2.6" ry="8.9" transform="rotate(-149.0 343.5 299.3)" fill="none" stroke="#8ab0e0" stroke-opacity="0.38" stroke-width="1.1"/>
<ellipse cx="340.2" cy="297.3" rx="2.6" ry="8.9" transform="rotate(-149.0 340.2 297.3)" fill="none" stroke="#8ab0e0" stroke-opacity="0.38" stroke-width="1.1"/>
<ellipse cx="336.8" cy="295.3" rx="2.6" ry="9.0" transform="rotate(-149.0 336.8 295.3)" fill="none" stroke="#8ab0e0" stroke-opacity="0.38" stroke-width="1.1"/>
<ellipse cx="333.5" cy="293.3" rx="2.6" ry="9.0" transform="rotate(-149.0 333.5 293.3)" fill="none" stroke="#8ab0e0" stroke-opacity="0.38" stroke-width="1.1"/>
<ellipse cx="333.5" cy="293.3" rx="3.4" ry="8.8" transform="rotate(-149.0 333.5 293.3)" fill="#3c6aad" stroke="#86aee0" stroke-width="1.2"/>
<path d="M430.9,269.9 L431.9,270.7 L433.2,271.8 L434.6,273.1 L436.2,274.6 L438.0,276.1 L439.8,277.7 L441.7,279.4 L443.7,281.1 L445.6,282.8 L447.5,284.4 L449.3,285.9 L451.0,287.2 L452.7,288.6 L454.3,289.9 L456.0,291.2 L457.7,292.5 L459.4,293.8 L461.1,295.0 L462.8,296.2 L464.4,297.4 L466.1,298.5 L467.7,299.6 L469.4,300.7 L471.0,301.7 L472.7,302.7 L474.3,303.7 L476.0,304.6 L477.6,305.6 L479.3,306.4 L480.9,307.3 L482.5,308.1 L484.1,308.9 L485.7,309.6 L487.3,310.2 L488.8,310.9 L490.4,311.4 L491.9,311.9 L493.5,312.4 L495.2,312.9 L496.8,313.3 L498.4,313.7 L500.1,314.0 L501.7,314.3 L503.3,314.6 L504.8,314.8 L506.3,315.0 L507.8,315.1 L509.2,315.2 L510.6,315.3 L511.9,315.3 L513.3,315.3 L514.6,315.2 L515.9,315.1 L517.1,315.0 L518.3,314.8 L519.4,314.6 L520.4,314.4 L521.2,314.2 L521.9,314.0 L522.4,313.8 L522.8,313.6 L523.2,313.4 L523.5,313.1 L523.8,312.9 L524.0,312.6 L524.2,312.4 L524.4,312.1 L524.5,311.9 L524.6,311.7 L524.7,311.5 L524.8,311.4 L524.8,311.3 L524.8,311.2 L524.8,311.1 L524.8,310.9 L524.7,310.7 L524.7,310.4 L524.5,310.1 L524.4,309.7 L524.1,309.3 L523.8,308.8 L523.4,308.2 L523.0,307.6 L522.4,306.9 L521.8,306.2 L521.0,305.4 L520.0,304.6 L518.9,303.7 L517.7,302.7 L516.4,301.7 L515.0,300.7 L513.6,299.7 L512.1,298.6 L510.6,297.6 L509.2,296.6 L507.7,295.6 L506.3,294.7 L504.7,293.7 L503.1,292.7 L501.3,291.6 L499.5,290.6 L497.8,289.6 L496.0,288.6 L494.4,287.7 L492.9,286.8 L491.5,286.0 L490.3,285.3 L489.3,284.8" fill="none" stroke="#2a2a2a" stroke-width="9.5" stroke-linecap="round" stroke-linejoin="round" />
<path d="M430.9,269.9 L431.9,270.7 L433.2,271.8 L434.6,273.1 L436.2,274.6 L438.0,276.1 L439.8,277.7 L441.7,279.4 L443.7,281.1 L445.6,282.8 L447.5,284.4 L449.3,285.9 L451.0,287.2 L452.7,288.6 L454.3,289.9 L456.0,291.2 L457.7,292.5 L459.4,293.8 L461.1,295.0 L462.8,296.2 L464.4,297.4 L466.1,298.5 L467.7,299.6 L469.4,300.7 L471.0,301.7 L472.7,302.7 L474.3,303.7 L476.0,304.6 L477.6,305.6 L479.3,306.4 L480.9,307.3 L482.5,308.1 L484.1,308.9 L485.7,309.6 L487.3,310.2 L488.8,310.9 L490.4,311.4 L491.9,311.9 L493.5,312.4 L495.2,312.9 L496.8,313.3 L498.4,313.7 L500.1,314.0 L501.7,314.3 L503.3,314.6 L504.8,314.8 L506.3,315.0 L507.8,315.1 L509.2,315.2 L510.6,315.3 L511.9,315.3 L513.3,315.3 L514.6,315.2 L515.9,315.1 L517.1,315.0 L518.3,314.8 L519.4,314.6 L520.4,314.4 L521.2,314.2 L521.9,314.0 L522.4,313.8 L522.8,313.6 L523.2,313.4 L523.5,313.1 L523.8,312.9 L524.0,312.6 L524.2,312.4 L524.4,312.1 L524.5,311.9 L524.6,311.7 L524.7,311.5 L524.8,311.4 L524.8,311.3 L524.8,311.2 L524.8,311.1 L524.8,310.9 L524.7,310.7 L524.7,310.4 L524.5,310.1 L524.4,309.7 L524.1,309.3 L523.8,308.8 L523.4,308.2 L523.0,307.6 L522.4,306.9 L521.8,306.2 L521.0,305.4 L520.0,304.6 L518.9,303.7 L517.7,302.7 L516.4,301.7 L515.0,300.7 L513.6,299.7 L512.1,298.6 L510.6,297.6 L509.2,296.6 L507.7,295.6 L506.3,294.7 L504.7,293.7 L503.1,292.7 L501.3,291.6 L499.5,290.6 L497.8,289.6 L496.0,288.6 L494.4,287.7 L492.9,286.8 L491.5,286.0 L490.3,285.3 L489.3,284.8" fill="none" stroke="#484848" stroke-width="7.7" stroke-linecap="round" stroke-linejoin="round" />
<path d="M430.9,269.9 L431.9,270.7 L433.2,271.8 L434.6,273.1 L436.2,274.6 L438.0,276.1 L439.8,277.7 L441.7,279.4 L443.7,281.1 L445.6,282.8 L447.5,284.4 L449.3,285.9 L451.0,287.2 L452.7,288.6 L454.3,289.9 L456.0,291.2 L457.7,292.5 L459.4,293.8 L461.1,295.0 L462.8,296.2 L464.4,297.4 L466.1,298.5 L467.7,299.6 L469.4,300.7 L471.0,301.7 L472.7,302.7 L474.3,303.7 L476.0,304.6 L477.6,305.6 L479.3,306.4 L480.9,307.3 L482.5,308.1 L484.1,308.9 L485.7,309.6 L487.3,310.2 L488.8,310.9 L490.4,311.4 L491.9,311.9 L493.5,312.4 L495.2,312.9 L496.8,313.3 L498.4,313.7 L500.1,314.0 L501.7,314.3 L503.3,314.6 L504.8,314.8 L506.3,315.0 L507.8,315.1 L509.2,315.2 L510.6,315.3 L511.9,315.3 L513.3,315.3 L514.6,315.2 L515.9,315.1 L517.1,315.0 L518.3,314.8 L519.4,314.6 L520.4,314.4 L521.2,314.2 L521.9,314.0 L522.4,313.8 L522.8,313.6 L523.2,313.4 L523.5,313.1 L523.8,312.9 L524.0,312.6 L524.2,312.4 L524.4,312.1 L524.5,311.9 L524.6,311.7 L524.7,311.5 L524.8,311.4 L524.8,311.3 L524.8,311.2 L524.8,311.1 L524.8,310.9 L524.7,310.7 L524.7,310.4 L524.5,310.1 L524.4,309.7 L524.1,309.3 L523.8,308.8 L523.4,308.2 L523.0,307.6 L522.4,306.9 L521.8,306.2 L521.0,305.4 L520.0,304.6 L518.9,303.7 L517.7,302.7 L516.4,301.7 L515.0,300.7 L513.6,299.7 L512.1,298.6 L510.6,297.6 L509.2,296.6 L507.7,295.6 L506.3,294.7 L504.7,293.7 L503.1,292.7 L501.3,291.6 L499.5,290.6 L497.8,289.6 L496.0,288.6 L494.4,287.7 L492.9,286.8 L491.5,286.0 L490.3,285.3 L489.3,284.8" fill="none" stroke="#6e6e6e" stroke-width="3.2" stroke-linecap="round" stroke-linejoin="round" transform="translate(0.9,-1.4)"/>
<path d="M426.0,275.5 L427.0,276.4 L428.2,277.4 L429.6,278.7 L431.2,280.2 L433.0,281.7 L434.8,283.4 L436.8,285.1 L438.7,286.8 L440.7,288.5 L442.7,290.1 L444.5,291.7 L446.3,293.1 L448.0,294.5 L449.7,295.8 L451.5,297.1 L453.2,298.5 L454.9,299.8 L456.7,301.1 L458.4,302.3 L460.1,303.5 L461.9,304.7 L463.6,305.9 L465.4,307.0 L467.1,308.1 L468.8,309.1 L470.6,310.2 L472.3,311.2 L474.0,312.1 L475.8,313.1 L477.5,314.0 L479.2,314.8 L481.0,315.7 L482.7,316.4 L484.4,317.2 L486.2,317.9 L487.9,318.5 L489.7,319.1 L491.4,319.6 L493.2,320.1 L495.0,320.6 L496.8,321.0 L498.6,321.4 L500.4,321.7 L502.1,322.0 L503.9,322.2 L505.6,322.4 L507.2,322.6 L508.8,322.7 L510.4,322.8 L511.9,322.8 L513.5,322.8 L515.0,322.7 L516.6,322.6 L518.0,322.4 L519.5,322.2 L520.8,322.0 L522.1,321.7 L523.3,321.4 L524.5,321.0 L525.5,320.6 L526.4,320.1 L527.3,319.6 L528.1,319.0 L528.9,318.4 L529.6,317.7 L530.2,317.0 L530.7,316.2 L531.1,315.5 L531.5,314.7 L531.8,313.9 L532.1,313.1 L532.2,312.3 L532.3,311.5 L532.3,310.7 L532.2,309.9 L532.0,309.1 L531.8,308.2 L531.5,307.4 L531.1,306.5 L530.7,305.6 L530.1,304.7 L529.5,303.8 L528.8,302.8 L528.0,301.9 L527.1,300.9 L526.0,299.9 L524.9,298.9 L523.6,297.8 L522.3,296.8 L520.9,295.7 L519.4,294.6 L517.9,293.5 L516.4,292.5 L514.9,291.4 L513.4,290.4 L511.9,289.4 L510.4,288.4 L508.7,287.3 L506.9,286.3 L505.1,285.2 L503.3,284.1 L501.5,283.1 L499.7,282.1 L498.1,281.1 L496.5,280.3" fill="none" stroke="#2a2a2a" stroke-width="9.5" stroke-linecap="round" stroke-linejoin="round" />
<path d="M426.0,275.5 L427.0,276.4 L428.2,277.4 L429.6,278.7 L431.2,280.2 L433.0,281.7 L434.8,283.4 L436.8,285.1 L438.7,286.8 L440.7,288.5 L442.7,290.1 L444.5,291.7 L446.3,293.1 L448.0,294.5 L449.7,295.8 L451.5,297.1 L453.2,298.5 L454.9,299.8 L456.7,301.1 L458.4,302.3 L460.1,303.5 L461.9,304.7 L463.6,305.9 L465.4,307.0 L467.1,308.1 L468.8,309.1 L470.6,310.2 L472.3,311.2 L474.0,312.1 L475.8,313.1 L477.5,314.0 L479.2,314.8 L481.0,315.7 L482.7,316.4 L484.4,317.2 L486.2,317.9 L487.9,318.5 L489.7,319.1 L491.4,319.6 L493.2,320.1 L495.0,320.6 L496.8,321.0 L498.6,321.4 L500.4,321.7 L502.1,322.0 L503.9,322.2 L505.6,322.4 L507.2,322.6 L508.8,322.7 L510.4,322.8 L511.9,322.8 L513.5,322.8 L515.0,322.7 L516.6,322.6 L518.0,322.4 L519.5,322.2 L520.8,322.0 L522.1,321.7 L523.3,321.4 L524.5,321.0 L525.5,320.6 L526.4,320.1 L527.3,319.6 L528.1,319.0 L528.9,318.4 L529.6,317.7 L530.2,317.0 L530.7,316.2 L531.1,315.5 L531.5,314.7 L531.8,313.9 L532.1,313.1 L532.2,312.3 L532.3,311.5 L532.3,310.7 L532.2,309.9 L532.0,309.1 L531.8,308.2 L531.5,307.4 L531.1,306.5 L530.7,305.6 L530.1,304.7 L529.5,303.8 L528.8,302.8 L528.0,301.9 L527.1,300.9 L526.0,299.9 L524.9,298.9 L523.6,297.8 L522.3,296.8 L520.9,295.7 L519.4,294.6 L517.9,293.5 L516.4,292.5 L514.9,291.4 L513.4,290.4 L511.9,289.4 L510.4,288.4 L508.7,287.3 L506.9,286.3 L505.1,285.2 L503.3,284.1 L501.5,283.1 L499.7,282.1 L498.1,281.1 L496.5,280.3" fill="none" stroke="#484848" stroke-width="7.7" stroke-linecap="round" stroke-linejoin="round" />
<path d="M426.0,275.5 L427.0,276.4 L428.2,277.4 L429.6,278.7 L431.2,280.2 L433.0,281.7 L434.8,283.4 L436.8,285.1 L438.7,286.8 L440.7,288.5 L442.7,290.1 L444.5,291.7 L446.3,293.1 L448.0,294.5 L449.7,295.8 L451.5,297.1 L453.2,298.5 L454.9,299.8 L456.7,301.1 L458.4,302.3 L460.1,303.5 L461.9,304.7 L463.6,305.9 L465.4,307.0 L467.1,308.1 L468.8,309.1 L470.6,310.2 L472.3,311.2 L474.0,312.1 L475.8,313.1 L477.5,314.0 L479.2,314.8 L481.0,315.7 L482.7,316.4 L484.4,317.2 L486.2,317.9 L487.9,318.5 L489.7,319.1 L491.4,319.6 L493.2,320.1 L495.0,320.6 L496.8,321.0 L498.6,321.4 L500.4,321.7 L502.1,322.0 L503.9,322.2 L505.6,322.4 L507.2,322.6 L508.8,322.7 L510.4,322.8 L511.9,322.8 L513.5,322.8 L515.0,322.7 L516.6,322.6 L518.0,322.4 L519.5,322.2 L520.8,322.0 L522.1,321.7 L523.3,321.4 L524.5,321.0 L525.5,320.6 L526.4,320.1 L527.3,319.6 L528.1,319.0 L528.9,318.4 L529.6,317.7 L530.2,317.0 L530.7,316.2 L531.1,315.5 L531.5,314.7 L531.8,313.9 L532.1,313.1 L532.2,312.3 L532.3,311.5 L532.3,310.7 L532.2,309.9 L532.0,309.1 L531.8,308.2 L531.5,307.4 L531.1,306.5 L530.7,305.6 L530.1,304.7 L529.5,303.8 L528.8,302.8 L528.0,301.9 L527.1,300.9 L526.0,299.9 L524.9,298.9 L523.6,297.8 L522.3,296.8 L520.9,295.7 L519.4,294.6 L517.9,293.5 L516.4,292.5 L514.9,291.4 L513.4,290.4 L511.9,289.4 L510.4,288.4 L508.7,287.3 L506.9,286.3 L505.1,285.2 L503.3,284.1 L501.5,283.1 L499.7,282.1 L498.1,281.1 L496.5,280.3" fill="none" stroke="#6e6e6e" stroke-width="3.2" stroke-linecap="round" stroke-linejoin="round" transform="translate(0.9,-1.4)"/>
<path d="M421.1,281.1 L422.0,282.0 L423.2,283.0 L424.6,284.3 L426.3,285.8 L428.0,287.3 L429.9,289.0 L431.8,290.7 L433.8,292.4 L435.8,294.2 L437.8,295.9 L439.8,297.5 L441.6,299.0 L443.4,300.4 L445.1,301.7 L446.9,303.1 L448.7,304.4 L450.5,305.8 L452.2,307.1 L454.0,308.4 L455.9,309.7 L457.7,310.9 L459.5,312.2 L461.3,313.4 L463.2,314.5 L465.0,315.6 L466.8,316.6 L468.6,317.7 L470.4,318.7 L472.2,319.7 L474.1,320.7 L475.9,321.6 L477.8,322.5 L479.7,323.3 L481.6,324.1 L483.5,324.9 L485.4,325.6 L487.4,326.2 L489.3,326.8 L491.3,327.4 L493.2,327.9 L495.2,328.3 L497.2,328.7 L499.1,329.1 L501.0,329.4 L502.9,329.7 L504.8,329.9 L506.6,330.1 L508.4,330.2 L510.2,330.3 L511.9,330.3 L513.7,330.3 L515.5,330.2 L517.2,330.1 L518.9,329.9 L520.6,329.6 L522.3,329.4 L523.9,329.0 L525.5,328.6 L527.0,328.1 L528.6,327.4 L530.1,326.7 L531.5,325.8 L532.8,324.9 L534.0,323.9 L535.1,322.7 L536.1,321.6 L537.0,320.3 L537.7,319.0 L538.4,317.7 L538.9,316.3 L539.4,314.8 L539.6,313.3 L539.8,311.8 L539.8,310.4 L539.6,308.9 L539.4,307.4 L539.0,306.0 L538.5,304.6 L537.9,303.3 L537.2,301.9 L536.5,300.6 L535.6,299.4 L534.6,298.1 L533.6,296.9 L532.4,295.6 L531.1,294.4 L529.8,293.2 L528.4,292.0 L526.9,290.9 L525.4,289.7 L523.8,288.6 L522.3,287.4 L520.7,286.3 L519.1,285.2 L517.6,284.2 L516.1,283.2 L514.4,282.1 L512.7,281.0 L510.8,279.8 L509.0,278.7 L507.1,277.6 L505.2,276.6 L503.4,275.5 L501.8,274.6 L500.2,273.7 L498.9,273.0 L497.7,272.3 L496.9,271.8" fill="none" stroke="#2a2a2a" stroke-width="9.5" stroke-linecap="round" stroke-linejoin="round" />
<path d="M421.1,281.1 L422.0,282.0 L423.2,283.0 L424.6,284.3 L426.3,285.8 L428.0,287.3 L429.9,289.0 L431.8,290.7 L433.8,292.4 L435.8,294.2 L437.8,295.9 L439.8,297.5 L441.6,299.0 L443.4,300.4 L445.1,301.7 L446.9,303.1 L448.7,304.4 L450.5,305.8 L452.2,307.1 L454.0,308.4 L455.9,309.7 L457.7,310.9 L459.5,312.2 L461.3,313.4 L463.2,314.5 L465.0,315.6 L466.8,316.6 L468.6,317.7 L470.4,318.7 L472.2,319.7 L474.1,320.7 L475.9,321.6 L477.8,322.5 L479.7,323.3 L481.6,324.1 L483.5,324.9 L485.4,325.6 L487.4,326.2 L489.3,326.8 L491.3,327.4 L493.2,327.9 L495.2,328.3 L497.2,328.7 L499.1,329.1 L501.0,329.4 L502.9,329.7 L504.8,329.9 L506.6,330.1 L508.4,330.2 L510.2,330.3 L511.9,330.3 L513.7,330.3 L515.5,330.2 L517.2,330.1 L518.9,329.9 L520.6,329.6 L522.3,329.4 L523.9,329.0 L525.5,328.6 L527.0,328.1 L528.6,327.4 L530.1,326.7 L531.5,325.8 L532.8,324.9 L534.0,323.9 L535.1,322.7 L536.1,321.6 L537.0,320.3 L537.7,319.0 L538.4,317.7 L538.9,316.3 L539.4,314.8 L539.6,313.3 L539.8,311.8 L539.8,310.4 L539.6,308.9 L539.4,307.4 L539.0,306.0 L538.5,304.6 L537.9,303.3 L537.2,301.9 L536.5,300.6 L535.6,299.4 L534.6,298.1 L533.6,296.9 L532.4,295.6 L531.1,294.4 L529.8,293.2 L528.4,292.0 L526.9,290.9 L525.4,289.7 L523.8,288.6 L522.3,287.4 L520.7,286.3 L519.1,285.2 L517.6,284.2 L516.1,283.2 L514.4,282.1 L512.7,281.0 L510.8,279.8 L509.0,278.7 L507.1,277.6 L505.2,276.6 L503.4,275.5 L501.8,274.6 L500.2,273.7 L498.9,273.0 L497.7,272.3 L496.9,271.8" fill="none" stroke="#484848" stroke-width="7.7" stroke-linecap="round" stroke-linejoin="round" />
<path d="M421.1,281.1 L422.0,282.0 L423.2,283.0 L424.6,284.3 L426.3,285.8 L428.0,287.3 L429.9,289.0 L431.8,290.7 L433.8,292.4 L435.8,294.2 L437.8,295.9 L439.8,297.5 L441.6,299.0 L443.4,300.4 L445.1,301.7 L446.9,303.1 L448.7,304.4 L450.5,305.8 L452.2,307.1 L454.0,308.4 L455.9,309.7 L457.7,310.9 L459.5,312.2 L461.3,313.4 L463.2,314.5 L465.0,315.6 L466.8,316.6 L468.6,317.7 L470.4,318.7 L472.2,319.7 L474.1,320.7 L475.9,321.6 L477.8,322.5 L479.7,323.3 L481.6,324.1 L483.5,324.9 L485.4,325.6 L487.4,326.2 L489.3,326.8 L491.3,327.4 L493.2,327.9 L495.2,328.3 L497.2,328.7 L499.1,329.1 L501.0,329.4 L502.9,329.7 L504.8,329.9 L506.6,330.1 L508.4,330.2 L510.2,330.3 L511.9,330.3 L513.7,330.3 L515.5,330.2 L517.2,330.1 L518.9,329.9 L520.6,329.6 L522.3,329.4 L523.9,329.0 L525.5,328.6 L527.0,328.1 L528.6,327.4 L530.1,326.7 L531.5,325.8 L532.8,324.9 L534.0,323.9 L535.1,322.7 L536.1,321.6 L537.0,320.3 L537.7,319.0 L538.4,317.7 L538.9,316.3 L539.4,314.8 L539.6,313.3 L539.8,311.8 L539.8,310.4 L539.6,308.9 L539.4,307.4 L539.0,306.0 L538.5,304.6 L537.9,303.3 L537.2,301.9 L536.5,300.6 L535.6,299.4 L534.6,298.1 L533.6,296.9 L532.4,295.6 L531.1,294.4 L529.8,293.2 L528.4,292.0 L526.9,290.9 L525.4,289.7 L523.8,288.6 L522.3,287.4 L520.7,286.3 L519.1,285.2 L517.6,284.2 L516.1,283.2 L514.4,282.1 L512.7,281.0 L510.8,279.8 L509.0,278.7 L507.1,277.6 L505.2,276.6 L503.4,275.5 L501.8,274.6 L500.2,273.7 L498.9,273.0 L497.7,272.3 L496.9,271.8" fill="none" stroke="#6e6e6e" stroke-width="3.2" stroke-linecap="round" stroke-linejoin="round" transform="translate(0.9,-1.4)"/>
<polygon points="83.3,252.5 130.8,245.0 121.7,287.5 74.2,295.0" fill="#e2e0f0" stroke="#f6f6fc" stroke-width="1.2" stroke-linejoin="round"/>
<polyline points="74.8,295.8 83.9,253.3 131.4,245.8" fill="none" stroke="#fbfbff" stroke-width="2.2" stroke-linejoin="round" stroke-linecap="round" opacity="0.9"/>
<line x1="97.0" y1="261.0" x2="92.0" y2="281.0" stroke="#f2d9c8" stroke-width="1" opacity="0.7"/>
<circle cx="97.0" cy="261.0" r="1.8" fill="#f3ea86"/>
<circle cx="92.0" cy="281.0" r="1.3" fill="#f3ea86"/>
<polygon points="101.7,265.0 112.5,258.3 126.7,257.5 138.3,271.7 136.7,286.7 126.7,298.3 111.7,300.0 100.0,286.7" fill="#0e6f83" stroke="#0e6f83" stroke-width="1" stroke-linejoin="round"/>
<polygon points="101.7,265.0 112.5,258.3 126.7,257.5 138.3,271.7 130.0,270.0 120.0,264.0 108.0,268.0" fill="#16889f" opacity="0.5"/>
<polygon points="101.7,265.0 108.0,268.0 106.0,288.0 115.0,297.0 111.7,300.0 100.0,286.7" fill="#0a5b6d" opacity="0.6"/>
<polygon points="115.5,290.5 116.5,283.0 120.5,280.5 121.5,274.5 127.5,271.5 131.0,274.5 129.5,280.0 128.5,285.0 124.5,287.5 122.0,291.5" fill="#dbeef8" stroke="#a4d2ea" stroke-width="1" stroke-linejoin="round"/>
<polygon points="131.7,301.7 141.7,281.7 153.3,280.8 166.7,288.3 176.7,298.3 183.5,307.5 184.0,313.0 177.0,316.5 171.0,319.0 169.0,326.0 165.0,333.3 153.3,328.3 143.3,318.3 131.7,308.3" fill="#0e6f83" stroke="#0e6f83" stroke-width="1" stroke-linejoin="round"/>
<polygon points="141.7,281.7 153.3,280.8 166.7,288.3 176.7,298.3 183.5,307.5 178.0,307.0 170.0,300.0 160.0,294.0 148.0,290.0 138.0,290.0" fill="#16889f" opacity="0.55"/>
<polygon points="141.0,302.5 146.0,300.5 152.5,301.3 154.0,308.0 153.5,315.0 150.0,317.5 144.0,318.5 141.5,316.0" fill="#c8123f" stroke="#a80c36" stroke-width="0.6" stroke-linejoin="round"/>
<circle cx="147.3" cy="309.3" r="1.3" fill="#6a3a5a"/>
<polygon points="192.3,232.3 239.8,224.8 230.7,267.3 183.2,274.8" fill="#e2e0f0" stroke="#f6f6fc" stroke-width="1.2" stroke-linejoin="round"/>
<polyline points="183.8,275.6 192.9,233.1 240.4,225.6" fill="none" stroke="#fbfbff" stroke-width="2.2" stroke-linejoin="round" stroke-linecap="round" opacity="0.9"/>
<line x1="206.0" y1="240.8" x2="201.0" y2="260.8" stroke="#f2d9c8" stroke-width="1" opacity="0.7"/>
<circle cx="206.0" cy="240.8" r="1.8" fill="#f3ea86"/>
<circle cx="201.0" cy="260.8" r="1.3" fill="#f3ea86"/>
<polygon points="209.2,246.5 220.0,239.8 234.2,239.0 245.8,253.2 244.2,268.2 234.2,279.8 219.2,281.5 207.5,268.2" fill="#0e7084" stroke="#0e7084" stroke-width="1" stroke-linejoin="round"/>
<polygon points="209.2,246.5 220.0,239.8 234.2,239.0 245.8,253.2 237.5,251.5 227.5,245.5 215.5,249.5" fill="#1689a0" opacity="0.5"/>
<polygon points="209.2,246.5 215.5,249.5 213.5,269.5 222.5,278.5 219.2,281.5 207.5,268.2" fill="#0a5c6e" opacity="0.6"/>
<polygon points="223.0,272.0 224.0,264.5 228.0,262.0 229.0,256.0 235.0,253.0 238.5,256.0 237.0,261.5 236.0,266.5 232.0,269.0 229.5,273.0" fill="#dbeef8" stroke="#a4d2ea" stroke-width="1" stroke-linejoin="round"/>
<polygon points="239.2,283.2 249.2,263.2 260.8,262.3 274.2,269.8 284.2,279.8 291.0,289.0 291.5,294.5 284.5,298.0 278.5,300.5 276.5,307.5 272.5,314.8 260.8,309.8 250.8,299.8 239.2,289.8" fill="#0e7084" stroke="#0e7084" stroke-width="1" stroke-linejoin="round"/>
<polygon points="249.2,263.2 260.8,262.3 274.2,269.8 284.2,279.8 291.0,289.0 285.5,288.5 277.5,281.5 267.5,275.5 255.5,271.5 245.5,271.5" fill="#1689a0" opacity="0.55"/>
<polygon points="248.5,284.0 253.5,282.0 260.0,282.8 261.5,289.5 261.0,296.5 257.5,299.0 251.5,300.0 249.0,297.5" fill="#c8123f" stroke="#a80c36" stroke-width="0.6" stroke-linejoin="round"/>
<circle cx="254.8" cy="290.8" r="1.3" fill="#6a3a5a"/>
<polygon points="337.6,209.0 385.1,201.5 376.0,244.0 328.5,251.5" fill="#e2e0f0" stroke="#f6f6fc" stroke-width="1.2" stroke-linejoin="round"/>
<polyline points="329.1,252.3 338.2,209.8 385.7,202.3" fill="none" stroke="#fbfbff" stroke-width="2.2" stroke-linejoin="round" stroke-linecap="round" opacity="0.9"/>
<line x1="351.3" y1="217.5" x2="346.3" y2="237.5" stroke="#f2d9c8" stroke-width="1" opacity="0.7"/>
<circle cx="351.3" cy="217.5" r="1.8" fill="#f3ea86"/>
<circle cx="346.3" cy="237.5" r="1.3" fill="#f3ea86"/>
<polygon points="355.2,223.5 366.0,216.8 380.2,216.0 391.8,230.2 390.2,245.2 380.2,256.8 365.2,258.5 353.5,245.2" fill="#0e7186" stroke="#0e7186" stroke-width="1" stroke-linejoin="round"/>
<polygon points="355.2,223.5 366.0,216.8 380.2,216.0 391.8,230.2 383.5,228.5 373.5,222.5 361.5,226.5" fill="#178aa1" opacity="0.5"/>
<polygon points="355.2,223.5 361.5,226.5 359.5,246.5 368.5,255.5 365.2,258.5 353.5,245.2" fill="#0a5d70" opacity="0.6"/>
<polygon points="369.0,249.0 370.0,241.5 374.0,239.0 375.0,233.0 381.0,230.0 384.5,233.0 383.0,238.5 382.0,243.5 378.0,246.0 375.5,250.0" fill="#dbeef8" stroke="#a4d2ea" stroke-width="1" stroke-linejoin="round"/>
<polygon points="385.2,260.2 395.2,240.2 406.8,239.3 420.2,246.8 430.2,256.8 437.0,266.0 437.5,271.5 430.5,275.0 424.5,277.5 422.5,284.5 418.5,291.8 406.8,286.8 396.8,276.8 385.2,266.8" fill="#0e7186" stroke="#0e7186" stroke-width="1" stroke-linejoin="round"/>
<polygon points="395.2,240.2 406.8,239.3 420.2,246.8 430.2,256.8 437.0,266.0 431.5,265.5 423.5,258.5 413.5,252.5 401.5,248.5 391.5,248.5" fill="#178aa1" opacity="0.55"/>
<polygon points="394.5,261.0 399.5,259.0 406.0,259.8 407.5,266.5 407.0,273.5 403.5,276.0 397.5,277.0 395.0,274.5" fill="#c8123f" stroke="#a80c36" stroke-width="0.6" stroke-linejoin="round"/>
<circle cx="400.8" cy="267.8" r="1.3" fill="#6a3a5a"/>
</g>
<g filter="url(#soft3)">
<g transform="translate(58.0,219.3) scale(0.92)"><path d="M-5.8,-6.2 L5.2,7.2" fill="none" stroke="#e61e1e" stroke-width="5.2" stroke-linecap="round"/><path d="M-7.2,6.2 Q-1.5,-2.5 8.2,-10 Q9.6,-10.6 9.4,-9 Q3,-1.5 -2.8,8.8 Q-4.6,10.8 -6.8,9.6 Q-8.6,8.2 -7.2,6.2 Z" fill="#e61e1e"/></g>
<g transform="translate(214.3,207.0) scale(1.00)"><path d="M-5.8,-6.2 L5.2,7.2" fill="none" stroke="#e61e1e" stroke-width="5.2" stroke-linecap="round"/><path d="M-7.2,6.2 Q-1.5,-2.5 8.2,-10 Q9.6,-10.6 9.4,-9 Q3,-1.5 -2.8,8.8 Q-4.6,10.8 -6.8,9.6 Q-8.6,8.2 -7.2,6.2 Z" fill="#e61e1e"/></g>
<g transform="translate(323.5,187.0) scale(0.70)" fill="#5fbb36"><path d="M-17,4 Q-15,-0.5 -11,1 L-5,7 Q4,-7 15,-15.5 Q17.8,-16.5 18.3,-13.5 Q8.5,-1.5 -2,15 Q-5,17 -7.8,15 Q-12.5,9.5 -17,4 Z"/></g>
<g transform="translate(397.0,188.0) scale(0.92)"><path d="M-5.8,-6.2 L5.2,7.2" fill="none" stroke="#e61e1e" stroke-width="5.2" stroke-linecap="round"/><path d="M-7.2,6.2 Q-1.5,-2.5 8.2,-10 Q9.6,-10.6 9.4,-9 Q3,-1.5 -2.8,8.8 Q-4.6,10.8 -6.8,9.6 Q-8.6,8.2 -7.2,6.2 Z" fill="#e61e1e"/></g>
<g transform="translate(527.5,182.0) scale(1.00)" fill="#5fbb36"><path d="M-17,4 Q-15,-0.5 -11,1 L-5,7 Q4,-7 15,-15.5 Q17.8,-16.5 18.3,-13.5 Q8.5,-1.5 -2,15 Q-5,17 -7.8,15 Q-12.5,9.5 -17,4 Z"/></g>
<g transform="translate(649.0,151.8) scale(1.05)"><path d="M-5.8,-6.2 L5.2,7.2" fill="none" stroke="#e61e1e" stroke-width="5.2" stroke-linecap="round"/><path d="M-7.2,6.2 Q-1.5,-2.5 8.2,-10 Q9.6,-10.6 9.4,-9 Q3,-1.5 -2.8,8.8 Q-4.6,10.8 -6.8,9.6 Q-8.6,8.2 -7.2,6.2 Z" fill="#e61e1e"/></g>
<g transform="translate(135.5,367.5) scale(0.62)" fill="#5fbb36"><path d="M-17,4 Q-15,-0.5 -11,1 L-5,7 Q4,-7 15,-15.5 Q17.8,-16.5 18.3,-13.5 Q8.5,-1.5 -2,15 Q-5,17 -7.8,15 Q-12.5,9.5 -17,4 Z"/></g>
<g transform="translate(365.0,374.0) scale(1.00)"><path d="M-5.8,-6.2 L5.2,7.2" fill="none" stroke="#e61e1e" stroke-width="5.2" stroke-linecap="round"/><path d="M-7.2,6.2 Q-1.5,-2.5 8.2,-10 Q9.6,-10.6 9.4,-9 Q3,-1.5 -2.8,8.8 Q-4.6,10.8 -6.8,9.6 Q-8.6,8.2 -7.2,6.2 Z" fill="#e61e1e"/></g>
</g>
<g filter="url(#soft2)">
<text x="0" y="4.44" text-anchor="middle" transform="translate(87.9,200.4) rotate(36.0)" font-size="12.0" fill="#2c2c2c" fill-opacity="0.80" stroke="#2c2c2c" stroke-opacity="0.40" stroke-width="0.01">电缆扭曲，连接器受力时对配</text>
<text x="0" y="4.44" text-anchor="middle" transform="translate(166.2,178.3) rotate(36.4)" font-size="12.0" fill="#2c2c2c" fill-opacity="0.80" stroke="#2c2c2c" stroke-opacity="0.40" stroke-width="0.01">手握电缆对配</text>
<text x="0" y="4.44" text-anchor="middle" transform="translate(287.9,177.5) rotate(38.6)" font-size="12.0" fill="#2c2c2c" fill-opacity="0.80" stroke="#2c2c2c" stroke-opacity="0.40" stroke-width="0.01">手握塑壳对配</text>
<text x="0" y="4.44" text-anchor="middle" transform="translate(405.0,114.6) rotate(41.5)" font-size="12.0" fill="#2c2c2c" fill-opacity="0.80" stroke="#2c2c2c" stroke-opacity="0.40" stroke-width="0.01">电缆在连接器根部<tspan font-weight="400">90</tspan>度折弯</text>
<text x="0" y="4.44" text-anchor="middle" transform="translate(545.0,144.8) rotate(40.5)" font-size="12.0" fill="#2c2c2c" fill-opacity="0.80" stroke="#2c2c2c" stroke-opacity="0.40" stroke-width="0.01">电缆在连接器根部满足弯曲半径折弯</text>
<text x="0" y="4.44" text-anchor="middle" transform="translate(602.6,75.2) rotate(39.4)" font-size="12.0" fill="#2c2c2c" fill-opacity="0.80" stroke="#2c2c2c" stroke-opacity="0.40" stroke-width="0.01">缠绕带紧贴连接器根部</text>
<text x="0" y="4.44" text-anchor="middle" transform="translate(157.5,348.1) rotate(32.9)" font-size="12.0" fill="#2c2c2c" fill-opacity="0.80" stroke="#2c2c2c" stroke-opacity="0.40" stroke-width="0.01">缠绕带距离塑壳大于<tspan font-weight="400">10</tspan>厘米</text>
<text x="0" y="4.44" text-anchor="middle" transform="translate(263.1,329.4) rotate(30.4)" font-size="12.0" fill="#2c2c2c" fill-opacity="0.80" stroke="#2c2c2c" stroke-opacity="0.40" stroke-width="0.01">电缆<tspan font-weight="400">180</tspan>度弯曲，贴近弯曲处捆扎</text>
<text x="0" y="4.44" text-anchor="middle" transform="translate(420.6,310.0) rotate(31.9)" font-size="12.0" fill="#2c2c2c" fill-opacity="0.80" stroke="#2c2c2c" stroke-opacity="0.40" stroke-width="0.01">电缆<tspan font-weight="400">180</tspan>度弯曲，不推荐</text>
</g>
</svg>
</body></html>
